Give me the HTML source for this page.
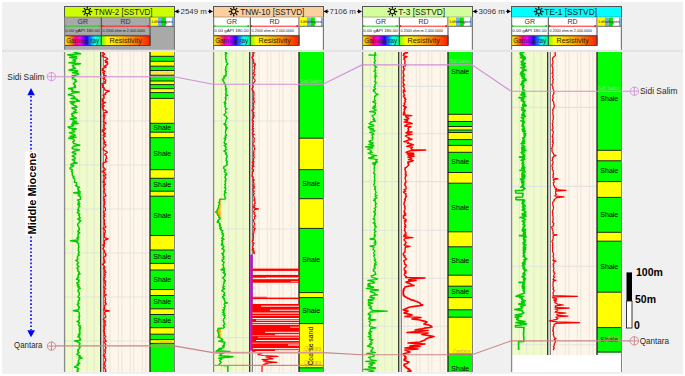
<!DOCTYPE html>
<html><head><meta charset="utf-8"><title>Well correlation</title>
<style>html,body{margin:0;padding:0;background:#fff;}svg{display:block;}</style></head>
<body><svg width="685" height="376" viewBox="0 0 685 376"><defs>
<linearGradient id="gGR" x1="0" x2="1" y1="0" y2="0">
<stop offset="0" stop-color="#ffff00"/><stop offset="0.18" stop-color="#ff8000"/><stop offset="0.3" stop-color="#ff0080"/>
<stop offset="0.42" stop-color="#ff00ff"/><stop offset="0.6" stop-color="#2000ff"/><stop offset="0.82" stop-color="#00ffff"/><stop offset="1" stop-color="#00ff80"/>
</linearGradient>
<linearGradient id="gRD" x1="0" x2="1" y1="0" y2="0">
<stop offset="0" stop-color="#60ff00"/><stop offset="0.12" stop-color="#ffff00"/><stop offset="0.55" stop-color="#ffa000"/><stop offset="1" stop-color="#ff2000"/>
</linearGradient>
</defs>
<rect x="0" y="0" width="685" height="376" fill="#ffffff"/>
<rect x="2" y="2" width="681" height="372" fill="#f0f0f0"/>
<rect x="2" y="49.8" width="681" height="2" fill="#e3e3e3"/>
<rect x="64.5" y="6.5" width="110" height="10.8" fill="#ccff00" stroke="#555" stroke-width="1"/>
<rect x="64.5" y="17.3" width="110" height="32.5" fill="#a9a9a9"/>
<circle cx="87.3" cy="11.5" r="2.2" fill="none" stroke="#111" stroke-width="1.1"/><line x1="90.60" y1="11.50" x2="91.70" y2="11.50" stroke="#111" stroke-width="1.3" stroke-linecap="round"/><line x1="89.63" y1="13.83" x2="90.41" y2="14.61" stroke="#111" stroke-width="1.3" stroke-linecap="round"/><line x1="87.30" y1="14.80" x2="87.30" y2="15.90" stroke="#111" stroke-width="1.3" stroke-linecap="round"/><line x1="84.97" y1="13.83" x2="84.19" y2="14.61" stroke="#111" stroke-width="1.3" stroke-linecap="round"/><line x1="84.00" y1="11.50" x2="82.90" y2="11.50" stroke="#111" stroke-width="1.3" stroke-linecap="round"/><line x1="84.97" y1="9.17" x2="84.19" y2="8.39" stroke="#111" stroke-width="1.3" stroke-linecap="round"/><line x1="87.30" y1="8.20" x2="87.30" y2="7.10" stroke="#111" stroke-width="1.3" stroke-linecap="round"/><line x1="89.63" y1="9.17" x2="90.41" y2="8.39" stroke="#111" stroke-width="1.3" stroke-linecap="round"/>
<text x="94.0" y="14.6" font-family="Liberation Sans" font-size="8.8" textLength="58.599999999999994" lengthAdjust="spacingAndGlyphs" fill="#222">TNW-2 [SSTVD]</text>
<text x="82.8" y="24.4" font-family="Liberation Sans" font-size="7" text-anchor="middle" fill="#333">GR</text>
<line x1="65" y1="26.2" x2="99.5" y2="26.2" stroke="#22cc22" stroke-width="1"/>
<circle cx="65.3" cy="26.2" r="1.1" fill="#22cc22"/><circle cx="99.3" cy="26.2" r="1.1" fill="#22cc22"/>
<text x="65.3" y="32.2" font-family="Liberation Sans" font-size="4.3" textLength="34.5" lengthAdjust="spacingAndGlyphs" fill="#1a1a1a">0.00 gAPI 180.00</text>
<text x="125.5" y="24.4" font-family="Liberation Sans" font-size="7" text-anchor="middle" fill="#333">RD</text>
<line x1="102" y1="26.2" x2="148.5" y2="26.2" stroke="#ff2020" stroke-width="1"/>
<circle cx="102.3" cy="26.2" r="1.1" fill="#ff2020"/><circle cx="148.3" cy="26.2" r="1.1" fill="#ff2020"/>
<text x="102.6" y="32.1" font-family="Liberation Sans" font-size="4" textLength="42.5" lengthAdjust="spacingAndGlyphs" fill="#1a1a1a">0.2000 ohm.m 2,000.0000</text>
<rect x="64.5" y="35.9" width="36.8" height="9.5" fill="url(#gGR)" stroke="#333" stroke-width="0.8"/>
<text x="66.2" y="43.2" font-family="Liberation Sans" font-size="7.2" textLength="33" lengthAdjust="spacingAndGlyphs" fill="#2a2a10">Gamma ray</text>
<rect x="101.3" y="35.9" width="48.8" height="9.5" fill="url(#gRD)" stroke="#333" stroke-width="0.8"/>
<text x="125.7" y="43.2" font-family="Liberation Sans" font-size="7.2" text-anchor="middle" fill="#2a2a10">Resistivity</text>
<line x1="101.3" y1="17.3" x2="101.3" y2="35.6" stroke="#444" stroke-width="1"/>
<line x1="64.5" y1="35.4" x2="150" y2="35.4" stroke="#555" stroke-width="0.8"/>
<line x1="150" y1="17.3" x2="150" y2="45.4" stroke="#444" stroke-width="1"/>
<rect x="150.6" y="17.6" width="7.4" height="8.6" fill="#ffff00"/>
<rect x="158.0" y="17.6" width="3.7" height="8.6" fill="#72b0f0"/>
<rect x="161.7" y="17.6" width="4.2" height="8.6" fill="#00e800"/>
<rect x="165.9" y="17.6" width="6" height="8.6" fill="#ffffff"/>
<rect x="171.9" y="17.6" width="1.9" height="8.6" fill="#72b0f0"/>
<line x1="150.6" y1="26.3" x2="174" y2="26.3" stroke="#444" stroke-width="0.8"/>
<text x="151.4" y="23.2" font-family="Liberation Sans" font-size="4" textLength="21.5" lengthAdjust="spacingAndGlyphs" fill="#222">Lithologies</text>
<path d="M64.6,49.7 V17.3 M174.4,17.3 V49.7" fill="none" stroke="#7a7a7a" stroke-width="1.2"/>
<rect x="64" y="52" width="37" height="320" fill="#f0fbcc"/>
<rect x="101" y="52" width="49" height="320" fill="#fef6ea"/>
<line x1="72.45" y1="52" x2="72.45" y2="372" stroke="#e3e8cf" stroke-width="1"/>
<line x1="79.70" y1="52" x2="79.70" y2="372" stroke="#e3e8cf" stroke-width="1"/>
<line x1="86.95" y1="52" x2="86.95" y2="372" stroke="#e3e8cf" stroke-width="1"/>
<line x1="94.20" y1="52" x2="94.20" y2="372" stroke="#e3e8cf" stroke-width="1"/>
<line x1="106.28" y1="52" x2="106.28" y2="372" stroke="#ebe4da" stroke-width="1"/>
<line x1="109.89" y1="52" x2="109.89" y2="372" stroke="#ebe4da" stroke-width="1"/>
<line x1="118.28" y1="52" x2="118.28" y2="372" stroke="#ebe4da" stroke-width="1"/>
<line x1="121.89" y1="52" x2="121.89" y2="372" stroke="#ebe4da" stroke-width="1"/>
<line x1="130.28" y1="52" x2="130.28" y2="372" stroke="#ebe4da" stroke-width="1"/>
<line x1="133.89" y1="52" x2="133.89" y2="372" stroke="#ebe4da" stroke-width="1"/>
<line x1="142.28" y1="52" x2="142.28" y2="372" stroke="#ebe4da" stroke-width="1"/>
<line x1="145.89" y1="52" x2="145.89" y2="372" stroke="#ebe4da" stroke-width="1"/>
<line x1="64" y1="77" x2="150" y2="77" stroke="#e2e2e2" stroke-width="1.1"/>
<line x1="64" y1="121" x2="150" y2="121" stroke="#e2e2e2" stroke-width="1.1"/>
<line x1="64" y1="165" x2="150" y2="165" stroke="#e2e2e2" stroke-width="1.1"/>
<line x1="64" y1="209" x2="150" y2="209" stroke="#e2e2e2" stroke-width="1.1"/>
<line x1="64" y1="253" x2="150" y2="253" stroke="#e2e2e2" stroke-width="1.1"/>
<line x1="64" y1="297" x2="150" y2="297" stroke="#e2e2e2" stroke-width="1.1"/>
<line x1="64" y1="341" x2="150" y2="341" stroke="#e2e2e2" stroke-width="1.1"/>
<rect x="213.5" y="6.5" width="110" height="10.8" fill="#fccf9e" stroke="#555" stroke-width="1"/>
<rect x="213.5" y="17.3" width="110" height="32.5" fill="#ffffff"/>
<circle cx="233.7" cy="11.5" r="2.2" fill="none" stroke="#111" stroke-width="1.1"/><line x1="237.00" y1="11.50" x2="238.10" y2="11.50" stroke="#111" stroke-width="1.3" stroke-linecap="round"/><line x1="236.03" y1="13.83" x2="236.81" y2="14.61" stroke="#111" stroke-width="1.3" stroke-linecap="round"/><line x1="233.70" y1="14.80" x2="233.70" y2="15.90" stroke="#111" stroke-width="1.3" stroke-linecap="round"/><line x1="231.37" y1="13.83" x2="230.59" y2="14.61" stroke="#111" stroke-width="1.3" stroke-linecap="round"/><line x1="230.40" y1="11.50" x2="229.30" y2="11.50" stroke="#111" stroke-width="1.3" stroke-linecap="round"/><line x1="231.37" y1="9.17" x2="230.59" y2="8.39" stroke="#111" stroke-width="1.3" stroke-linecap="round"/><line x1="233.70" y1="8.20" x2="233.70" y2="7.10" stroke="#111" stroke-width="1.3" stroke-linecap="round"/><line x1="236.03" y1="9.17" x2="236.81" y2="8.39" stroke="#111" stroke-width="1.3" stroke-linecap="round"/>
<text x="240.2" y="14.6" font-family="Liberation Sans" font-size="8.8" textLength="64.2" lengthAdjust="spacingAndGlyphs" fill="#222">TNW-10 [SSTVD]</text>
<text x="231.8" y="24.4" font-family="Liberation Sans" font-size="7" text-anchor="middle" fill="#333">GR</text>
<line x1="214" y1="26.2" x2="248.5" y2="26.2" stroke="#22cc22" stroke-width="1"/>
<circle cx="214.3" cy="26.2" r="1.1" fill="#22cc22"/><circle cx="248.3" cy="26.2" r="1.1" fill="#22cc22"/>
<text x="214.3" y="32.2" font-family="Liberation Sans" font-size="4.3" textLength="34.5" lengthAdjust="spacingAndGlyphs" fill="#1a1a1a">0.00 gAPI 180.00</text>
<text x="274.5" y="24.4" font-family="Liberation Sans" font-size="7" text-anchor="middle" fill="#333">RD</text>
<line x1="251" y1="26.2" x2="297.5" y2="26.2" stroke="#ff2020" stroke-width="1"/>
<circle cx="251.3" cy="26.2" r="1.1" fill="#ff2020"/><circle cx="297.3" cy="26.2" r="1.1" fill="#ff2020"/>
<text x="251.6" y="32.1" font-family="Liberation Sans" font-size="4" textLength="42.5" lengthAdjust="spacingAndGlyphs" fill="#1a1a1a">0.2000 ohm.m 2,000.0000</text>
<rect x="213.5" y="35.9" width="36.8" height="9.5" fill="url(#gGR)" stroke="#333" stroke-width="0.8"/>
<text x="215.2" y="43.2" font-family="Liberation Sans" font-size="7.2" textLength="33" lengthAdjust="spacingAndGlyphs" fill="#2a2a10">Gamma ray</text>
<rect x="250.3" y="35.9" width="48.8" height="9.5" fill="url(#gRD)" stroke="#333" stroke-width="0.8"/>
<text x="274.7" y="43.2" font-family="Liberation Sans" font-size="7.2" text-anchor="middle" fill="#2a2a10">Resistivity</text>
<line x1="250.3" y1="17.3" x2="250.3" y2="35.6" stroke="#444" stroke-width="1"/>
<line x1="213.5" y1="35.4" x2="299" y2="35.4" stroke="#555" stroke-width="0.8"/>
<line x1="299" y1="17.3" x2="299" y2="45.4" stroke="#444" stroke-width="1"/>
<rect x="299.6" y="17.6" width="7.4" height="8.6" fill="#ffff00"/>
<rect x="307.0" y="17.6" width="3.7" height="8.6" fill="#72b0f0"/>
<rect x="310.70000000000005" y="17.6" width="4.2" height="8.6" fill="#00e800"/>
<rect x="314.90000000000003" y="17.6" width="6" height="8.6" fill="#ffffff"/>
<rect x="320.90000000000003" y="17.6" width="1.9" height="8.6" fill="#72b0f0"/>
<line x1="299.6" y1="26.3" x2="323" y2="26.3" stroke="#444" stroke-width="0.8"/>
<text x="300.40000000000003" y="23.2" font-family="Liberation Sans" font-size="4" textLength="21.5" lengthAdjust="spacingAndGlyphs" fill="#222">Lithologies</text>
<path d="M213.6,49.7 V17.3 M323.4,17.3 V49.7" fill="none" stroke="#7a7a7a" stroke-width="1.2"/>
<rect x="213" y="52" width="37" height="320" fill="#f0fbcc"/>
<rect x="250" y="52" width="49" height="320" fill="#fef6ea"/>
<line x1="221.45" y1="52" x2="221.45" y2="372" stroke="#e3e8cf" stroke-width="1"/>
<line x1="228.70" y1="52" x2="228.70" y2="372" stroke="#e3e8cf" stroke-width="1"/>
<line x1="235.95" y1="52" x2="235.95" y2="372" stroke="#e3e8cf" stroke-width="1"/>
<line x1="243.20" y1="52" x2="243.20" y2="372" stroke="#e3e8cf" stroke-width="1"/>
<line x1="255.28" y1="52" x2="255.28" y2="372" stroke="#ebe4da" stroke-width="1"/>
<line x1="258.89" y1="52" x2="258.89" y2="372" stroke="#ebe4da" stroke-width="1"/>
<line x1="267.28" y1="52" x2="267.28" y2="372" stroke="#ebe4da" stroke-width="1"/>
<line x1="270.89" y1="52" x2="270.89" y2="372" stroke="#ebe4da" stroke-width="1"/>
<line x1="279.28" y1="52" x2="279.28" y2="372" stroke="#ebe4da" stroke-width="1"/>
<line x1="282.89" y1="52" x2="282.89" y2="372" stroke="#ebe4da" stroke-width="1"/>
<line x1="291.28" y1="52" x2="291.28" y2="372" stroke="#ebe4da" stroke-width="1"/>
<line x1="294.89" y1="52" x2="294.89" y2="372" stroke="#ebe4da" stroke-width="1"/>
<line x1="213" y1="121" x2="299" y2="121" stroke="#e2e2e2" stroke-width="1.1"/>
<line x1="213" y1="229" x2="299" y2="229" stroke="#e2e2e2" stroke-width="1.1"/>
<line x1="213" y1="337.6" x2="299" y2="337.6" stroke="#e2e2e2" stroke-width="1.1"/>
<rect x="362.5" y="6.5" width="110" height="10.8" fill="#d4fe9e" stroke="#555" stroke-width="1"/>
<rect x="362.5" y="17.3" width="110" height="32.5" fill="#ffffff"/>
<circle cx="392.4" cy="11.5" r="2.2" fill="none" stroke="#111" stroke-width="1.1"/><line x1="395.70" y1="11.50" x2="396.80" y2="11.50" stroke="#111" stroke-width="1.3" stroke-linecap="round"/><line x1="394.73" y1="13.83" x2="395.51" y2="14.61" stroke="#111" stroke-width="1.3" stroke-linecap="round"/><line x1="392.40" y1="14.80" x2="392.40" y2="15.90" stroke="#111" stroke-width="1.3" stroke-linecap="round"/><line x1="390.07" y1="13.83" x2="389.29" y2="14.61" stroke="#111" stroke-width="1.3" stroke-linecap="round"/><line x1="389.10" y1="11.50" x2="388.00" y2="11.50" stroke="#111" stroke-width="1.3" stroke-linecap="round"/><line x1="390.07" y1="9.17" x2="389.29" y2="8.39" stroke="#111" stroke-width="1.3" stroke-linecap="round"/><line x1="392.40" y1="8.20" x2="392.40" y2="7.10" stroke="#111" stroke-width="1.3" stroke-linecap="round"/><line x1="394.73" y1="9.17" x2="395.51" y2="8.39" stroke="#111" stroke-width="1.3" stroke-linecap="round"/>
<text x="398.3" y="14.6" font-family="Liberation Sans" font-size="8.8" textLength="46.8" lengthAdjust="spacingAndGlyphs" fill="#222">T-3 [SSTVD]</text>
<text x="380.8" y="24.4" font-family="Liberation Sans" font-size="7" text-anchor="middle" fill="#333">GR</text>
<line x1="363" y1="26.2" x2="397.5" y2="26.2" stroke="#22cc22" stroke-width="1"/>
<circle cx="363.3" cy="26.2" r="1.1" fill="#22cc22"/><circle cx="397.3" cy="26.2" r="1.1" fill="#22cc22"/>
<text x="363.3" y="32.2" font-family="Liberation Sans" font-size="4.3" textLength="34.5" lengthAdjust="spacingAndGlyphs" fill="#1a1a1a">0.00 gAPI 180.00</text>
<text x="423.5" y="24.4" font-family="Liberation Sans" font-size="7" text-anchor="middle" fill="#333">RD</text>
<line x1="400" y1="26.2" x2="446.5" y2="26.2" stroke="#ff2020" stroke-width="1"/>
<circle cx="400.3" cy="26.2" r="1.1" fill="#ff2020"/><circle cx="446.3" cy="26.2" r="1.1" fill="#ff2020"/>
<text x="400.6" y="32.1" font-family="Liberation Sans" font-size="4" textLength="42.5" lengthAdjust="spacingAndGlyphs" fill="#1a1a1a">0.2000 ohm.m 2,000.0000</text>
<rect x="362.5" y="35.9" width="36.8" height="9.5" fill="url(#gGR)" stroke="#333" stroke-width="0.8"/>
<text x="364.2" y="43.2" font-family="Liberation Sans" font-size="7.2" textLength="33" lengthAdjust="spacingAndGlyphs" fill="#2a2a10">Gamma ray</text>
<rect x="399.3" y="35.9" width="48.8" height="9.5" fill="url(#gRD)" stroke="#333" stroke-width="0.8"/>
<text x="423.7" y="43.2" font-family="Liberation Sans" font-size="7.2" text-anchor="middle" fill="#2a2a10">Resistivity</text>
<line x1="399.3" y1="17.3" x2="399.3" y2="35.6" stroke="#444" stroke-width="1"/>
<line x1="362.5" y1="35.4" x2="448" y2="35.4" stroke="#555" stroke-width="0.8"/>
<line x1="448" y1="17.3" x2="448" y2="45.4" stroke="#444" stroke-width="1"/>
<rect x="448.6" y="17.6" width="7.4" height="8.6" fill="#ffff00"/>
<rect x="456.0" y="17.6" width="3.7" height="8.6" fill="#72b0f0"/>
<rect x="459.70000000000005" y="17.6" width="4.2" height="8.6" fill="#00e800"/>
<rect x="463.90000000000003" y="17.6" width="6" height="8.6" fill="#ffffff"/>
<rect x="469.90000000000003" y="17.6" width="1.9" height="8.6" fill="#72b0f0"/>
<line x1="448.6" y1="26.3" x2="472" y2="26.3" stroke="#444" stroke-width="0.8"/>
<text x="449.40000000000003" y="23.2" font-family="Liberation Sans" font-size="4" textLength="21.5" lengthAdjust="spacingAndGlyphs" fill="#222">Lithologies</text>
<path d="M362.6,49.7 V17.3 M472.4,17.3 V49.7" fill="none" stroke="#7a7a7a" stroke-width="1.2"/>
<rect x="362" y="52" width="37" height="320" fill="#f0fbcc"/>
<rect x="399" y="52" width="49" height="320" fill="#fef6ea"/>
<line x1="370.45" y1="52" x2="370.45" y2="372" stroke="#e3e8cf" stroke-width="1"/>
<line x1="377.70" y1="52" x2="377.70" y2="372" stroke="#e3e8cf" stroke-width="1"/>
<line x1="384.95" y1="52" x2="384.95" y2="372" stroke="#e3e8cf" stroke-width="1"/>
<line x1="392.20" y1="52" x2="392.20" y2="372" stroke="#e3e8cf" stroke-width="1"/>
<line x1="404.28" y1="52" x2="404.28" y2="372" stroke="#ebe4da" stroke-width="1"/>
<line x1="407.89" y1="52" x2="407.89" y2="372" stroke="#ebe4da" stroke-width="1"/>
<line x1="416.28" y1="52" x2="416.28" y2="372" stroke="#ebe4da" stroke-width="1"/>
<line x1="419.89" y1="52" x2="419.89" y2="372" stroke="#ebe4da" stroke-width="1"/>
<line x1="428.28" y1="52" x2="428.28" y2="372" stroke="#ebe4da" stroke-width="1"/>
<line x1="431.89" y1="52" x2="431.89" y2="372" stroke="#ebe4da" stroke-width="1"/>
<line x1="440.28" y1="52" x2="440.28" y2="372" stroke="#ebe4da" stroke-width="1"/>
<line x1="443.89" y1="52" x2="443.89" y2="372" stroke="#ebe4da" stroke-width="1"/>
<line x1="362" y1="86.4" x2="448" y2="86.4" stroke="#e2e2e2" stroke-width="1.1"/>
<line x1="362" y1="133.8" x2="448" y2="133.8" stroke="#e2e2e2" stroke-width="1.1"/>
<line x1="362" y1="181.6" x2="448" y2="181.6" stroke="#e2e2e2" stroke-width="1.1"/>
<line x1="362" y1="230.2" x2="448" y2="230.2" stroke="#e2e2e2" stroke-width="1.1"/>
<line x1="362" y1="278.2" x2="448" y2="278.2" stroke="#e2e2e2" stroke-width="1.1"/>
<line x1="362" y1="326.3" x2="448" y2="326.3" stroke="#e2e2e2" stroke-width="1.1"/>
<rect x="511.5" y="6.5" width="110" height="10.8" fill="#00ffff" stroke="#555" stroke-width="1"/>
<rect x="511.5" y="17.3" width="110" height="32.5" fill="#ffffff"/>
<circle cx="538.7" cy="11.5" r="2.2" fill="none" stroke="#111" stroke-width="1.1"/><line x1="542.00" y1="11.50" x2="543.10" y2="11.50" stroke="#111" stroke-width="1.3" stroke-linecap="round"/><line x1="541.03" y1="13.83" x2="541.81" y2="14.61" stroke="#111" stroke-width="1.3" stroke-linecap="round"/><line x1="538.70" y1="14.80" x2="538.70" y2="15.90" stroke="#111" stroke-width="1.3" stroke-linecap="round"/><line x1="536.37" y1="13.83" x2="535.59" y2="14.61" stroke="#111" stroke-width="1.3" stroke-linecap="round"/><line x1="535.40" y1="11.50" x2="534.30" y2="11.50" stroke="#111" stroke-width="1.3" stroke-linecap="round"/><line x1="536.37" y1="9.17" x2="535.59" y2="8.39" stroke="#111" stroke-width="1.3" stroke-linecap="round"/><line x1="538.70" y1="8.20" x2="538.70" y2="7.10" stroke="#111" stroke-width="1.3" stroke-linecap="round"/><line x1="541.03" y1="9.17" x2="541.81" y2="8.39" stroke="#111" stroke-width="1.3" stroke-linecap="round"/>
<text x="544.3000000000001" y="14.6" font-family="Liberation Sans" font-size="8.8" textLength="52.699999999999996" lengthAdjust="spacingAndGlyphs" fill="#222">TE-1 [SSTVD]</text>
<text x="529.8" y="24.4" font-family="Liberation Sans" font-size="7" text-anchor="middle" fill="#333">GR</text>
<line x1="512" y1="26.2" x2="546.5" y2="26.2" stroke="#22cc22" stroke-width="1"/>
<circle cx="512.3" cy="26.2" r="1.1" fill="#22cc22"/><circle cx="546.3" cy="26.2" r="1.1" fill="#22cc22"/>
<text x="512.3" y="32.2" font-family="Liberation Sans" font-size="4.3" textLength="34.5" lengthAdjust="spacingAndGlyphs" fill="#1a1a1a">0.00 gAPI 180.00</text>
<text x="572.5" y="24.4" font-family="Liberation Sans" font-size="7" text-anchor="middle" fill="#333">RD</text>
<line x1="549" y1="26.2" x2="595.5" y2="26.2" stroke="#ff2020" stroke-width="1"/>
<circle cx="549.3" cy="26.2" r="1.1" fill="#ff2020"/><circle cx="595.3" cy="26.2" r="1.1" fill="#ff2020"/>
<text x="549.6" y="32.1" font-family="Liberation Sans" font-size="4" textLength="42.5" lengthAdjust="spacingAndGlyphs" fill="#1a1a1a">0.2000 ohm.m 2,000.0000</text>
<rect x="511.5" y="35.9" width="36.8" height="9.5" fill="url(#gGR)" stroke="#333" stroke-width="0.8"/>
<text x="513.2" y="43.2" font-family="Liberation Sans" font-size="7.2" textLength="33" lengthAdjust="spacingAndGlyphs" fill="#2a2a10">Gamma ray</text>
<rect x="548.3" y="35.9" width="48.8" height="9.5" fill="url(#gRD)" stroke="#333" stroke-width="0.8"/>
<text x="572.7" y="43.2" font-family="Liberation Sans" font-size="7.2" text-anchor="middle" fill="#2a2a10">Resistivity</text>
<line x1="548.3" y1="17.3" x2="548.3" y2="35.6" stroke="#444" stroke-width="1"/>
<line x1="511.5" y1="35.4" x2="597" y2="35.4" stroke="#555" stroke-width="0.8"/>
<line x1="597" y1="17.3" x2="597" y2="45.4" stroke="#444" stroke-width="1"/>
<rect x="597.6" y="17.6" width="7.4" height="8.6" fill="#ffff00"/>
<rect x="605.0" y="17.6" width="3.7" height="8.6" fill="#72b0f0"/>
<rect x="608.7" y="17.6" width="4.2" height="8.6" fill="#00e800"/>
<rect x="612.9" y="17.6" width="6" height="8.6" fill="#ffffff"/>
<rect x="618.9" y="17.6" width="1.9" height="8.6" fill="#72b0f0"/>
<line x1="597.6" y1="26.3" x2="621" y2="26.3" stroke="#444" stroke-width="0.8"/>
<text x="598.4" y="23.2" font-family="Liberation Sans" font-size="4" textLength="21.5" lengthAdjust="spacingAndGlyphs" fill="#222">Lithologies</text>
<path d="M511.6,49.7 V17.3 M621.4,17.3 V49.7" fill="none" stroke="#7a7a7a" stroke-width="1.2"/>
<rect x="511" y="355" width="110.5" height="17" fill="#ffffff"/>
<rect x="511" y="52" width="37" height="303" fill="#f0fbcc"/>
<rect x="548" y="52" width="49" height="303" fill="#fef6ea"/>
<line x1="519.45" y1="52" x2="519.45" y2="355" stroke="#e3e8cf" stroke-width="1"/>
<line x1="526.70" y1="52" x2="526.70" y2="355" stroke="#e3e8cf" stroke-width="1"/>
<line x1="533.95" y1="52" x2="533.95" y2="355" stroke="#e3e8cf" stroke-width="1"/>
<line x1="541.20" y1="52" x2="541.20" y2="355" stroke="#e3e8cf" stroke-width="1"/>
<line x1="553.28" y1="52" x2="553.28" y2="355" stroke="#ebe4da" stroke-width="1"/>
<line x1="556.89" y1="52" x2="556.89" y2="355" stroke="#ebe4da" stroke-width="1"/>
<line x1="565.28" y1="52" x2="565.28" y2="355" stroke="#ebe4da" stroke-width="1"/>
<line x1="568.89" y1="52" x2="568.89" y2="355" stroke="#ebe4da" stroke-width="1"/>
<line x1="577.28" y1="52" x2="577.28" y2="355" stroke="#ebe4da" stroke-width="1"/>
<line x1="580.89" y1="52" x2="580.89" y2="355" stroke="#ebe4da" stroke-width="1"/>
<line x1="589.28" y1="52" x2="589.28" y2="355" stroke="#ebe4da" stroke-width="1"/>
<line x1="592.89" y1="52" x2="592.89" y2="355" stroke="#ebe4da" stroke-width="1"/>
<line x1="511" y1="107.4" x2="597" y2="107.4" stroke="#e2e2e2" stroke-width="1.1"/>
<line x1="511" y1="186.4" x2="597" y2="186.4" stroke="#e2e2e2" stroke-width="1.1"/>
<line x1="511" y1="266.2" x2="597" y2="266.2" stroke="#e2e2e2" stroke-width="1.1"/>
<line x1="511" y1="344.8" x2="597" y2="344.8" stroke="#e2e2e2" stroke-width="1.1"/>
<rect x="150" y="52" width="24.2" height="4.30" fill="#ffff00"/>
<rect x="150" y="56.3" width="24.2" height="5.00" fill="#00ff00"/>
<rect x="150" y="61.3" width="24.2" height="4.90" fill="#ffff00"/>
<rect x="150" y="66.2" width="24.2" height="4.30" fill="#00ff00"/>
<rect x="150" y="70.5" width="24.2" height="4.70" fill="#ffff00"/>
<rect x="150" y="75.2" width="24.2" height="5.80" fill="#00ff00"/>
<rect x="150" y="81" width="24.2" height="3.60" fill="#ffff00"/>
<rect x="150" y="84.6" width="24.2" height="4.10" fill="#00ff00"/>
<rect x="150" y="88.7" width="24.2" height="3.90" fill="#ffff00"/>
<rect x="150" y="92.6" width="24.2" height="5.80" fill="#00ff00"/>
<rect x="150" y="98.4" width="24.2" height="24.90" fill="#ffff00"/>
<rect x="150" y="123.3" width="24.2" height="8.90" fill="#00ff00"/>
<rect x="150" y="132.2" width="24.2" height="5.50" fill="#ffff00"/>
<rect x="150" y="137.7" width="24.2" height="32.00" fill="#00ff00"/>
<rect x="150" y="169.7" width="24.2" height="8.60" fill="#ffff00"/>
<rect x="150" y="178.3" width="24.2" height="12.90" fill="#00ff00"/>
<rect x="150" y="191.2" width="24.2" height="5.00" fill="#ffff00"/>
<rect x="150" y="196.2" width="24.2" height="39.30" fill="#00ff00"/>
<rect x="150" y="235.5" width="24.2" height="14.50" fill="#ffff00"/>
<rect x="150" y="250" width="24.2" height="13.40" fill="#00ff00"/>
<rect x="150" y="263.4" width="24.2" height="6.60" fill="#ffff00"/>
<rect x="150" y="270" width="24.2" height="19.50" fill="#00ff00"/>
<rect x="150" y="289.5" width="24.2" height="6.00" fill="#ffff00"/>
<rect x="150" y="295.5" width="24.2" height="13.30" fill="#00ff00"/>
<rect x="150" y="308.8" width="24.2" height="5.70" fill="#ffff00"/>
<rect x="150" y="314.5" width="24.2" height="13.20" fill="#00ff00"/>
<rect x="150" y="327.7" width="24.2" height="6.50" fill="#ffff00"/>
<rect x="150" y="334.2" width="24.2" height="5.40" fill="#00ff00"/>
<rect x="150" y="339.6" width="24.2" height="3.80" fill="#ffff00"/>
<rect x="150" y="343.4" width="24.2" height="28.60" fill="#00ff00"/>
<line x1="150" y1="56.3" x2="174.2" y2="56.3" stroke="#1a2a1a" stroke-width="1"/>
<line x1="150" y1="61.3" x2="174.2" y2="61.3" stroke="#1a2a1a" stroke-width="1"/>
<line x1="150" y1="66.2" x2="174.2" y2="66.2" stroke="#1a2a1a" stroke-width="1"/>
<line x1="150" y1="70.5" x2="174.2" y2="70.5" stroke="#1a2a1a" stroke-width="1"/>
<line x1="150" y1="75.2" x2="174.2" y2="75.2" stroke="#1a2a1a" stroke-width="1"/>
<line x1="150" y1="81" x2="174.2" y2="81" stroke="#1a2a1a" stroke-width="1"/>
<line x1="150" y1="84.6" x2="174.2" y2="84.6" stroke="#1a2a1a" stroke-width="1"/>
<line x1="150" y1="88.7" x2="174.2" y2="88.7" stroke="#1a2a1a" stroke-width="1"/>
<line x1="150" y1="92.6" x2="174.2" y2="92.6" stroke="#1a2a1a" stroke-width="1"/>
<line x1="150" y1="98.4" x2="174.2" y2="98.4" stroke="#1a2a1a" stroke-width="1"/>
<line x1="150" y1="123.3" x2="174.2" y2="123.3" stroke="#1a2a1a" stroke-width="1"/>
<line x1="150" y1="132.2" x2="174.2" y2="132.2" stroke="#1a2a1a" stroke-width="1"/>
<line x1="150" y1="137.7" x2="174.2" y2="137.7" stroke="#1a2a1a" stroke-width="1"/>
<line x1="150" y1="169.7" x2="174.2" y2="169.7" stroke="#1a2a1a" stroke-width="1"/>
<line x1="150" y1="178.3" x2="174.2" y2="178.3" stroke="#1a2a1a" stroke-width="1"/>
<line x1="150" y1="191.2" x2="174.2" y2="191.2" stroke="#1a2a1a" stroke-width="1"/>
<line x1="150" y1="196.2" x2="174.2" y2="196.2" stroke="#1a2a1a" stroke-width="1"/>
<line x1="150" y1="235.5" x2="174.2" y2="235.5" stroke="#1a2a1a" stroke-width="1"/>
<line x1="150" y1="250" x2="174.2" y2="250" stroke="#1a2a1a" stroke-width="1"/>
<line x1="150" y1="263.4" x2="174.2" y2="263.4" stroke="#1a2a1a" stroke-width="1"/>
<line x1="150" y1="270" x2="174.2" y2="270" stroke="#1a2a1a" stroke-width="1"/>
<line x1="150" y1="289.5" x2="174.2" y2="289.5" stroke="#1a2a1a" stroke-width="1"/>
<line x1="150" y1="295.5" x2="174.2" y2="295.5" stroke="#1a2a1a" stroke-width="1"/>
<line x1="150" y1="308.8" x2="174.2" y2="308.8" stroke="#1a2a1a" stroke-width="1"/>
<line x1="150" y1="314.5" x2="174.2" y2="314.5" stroke="#1a2a1a" stroke-width="1"/>
<line x1="150" y1="327.7" x2="174.2" y2="327.7" stroke="#1a2a1a" stroke-width="1"/>
<line x1="150" y1="334.2" x2="174.2" y2="334.2" stroke="#1a2a1a" stroke-width="1"/>
<line x1="150" y1="339.6" x2="174.2" y2="339.6" stroke="#1a2a1a" stroke-width="1"/>
<line x1="150" y1="343.4" x2="174.2" y2="343.4" stroke="#1a2a1a" stroke-width="1"/>
<text x="162.3" y="130.2" font-family="Liberation Sans" font-size="7" text-anchor="middle" fill="#000">Shale</text>
<text x="162.3" y="156.4" font-family="Liberation Sans" font-size="7" text-anchor="middle" fill="#000">Shale</text>
<text x="162.3" y="187.2" font-family="Liberation Sans" font-size="7" text-anchor="middle" fill="#000">Shale</text>
<text x="162.3" y="217.5" font-family="Liberation Sans" font-size="7" text-anchor="middle" fill="#000">Shale</text>
<text x="162.3" y="259.1" font-family="Liberation Sans" font-size="7" text-anchor="middle" fill="#000">Shale</text>
<text x="162.3" y="281.5" font-family="Liberation Sans" font-size="7" text-anchor="middle" fill="#000">Shale</text>
<text x="162.3" y="304.3" font-family="Liberation Sans" font-size="7" text-anchor="middle" fill="#000">Shale</text>
<text x="162.3" y="322.5" font-family="Liberation Sans" font-size="7" text-anchor="middle" fill="#000">Shale</text>
<line x1="150" y1="52" x2="150" y2="372" stroke="#1e1e1e" stroke-width="1.3"/>
<line x1="64.6" y1="52" x2="64.6" y2="372" stroke="#8a8a8a" stroke-width="1.3"/>
<line x1="100.8" y1="52" x2="100.8" y2="372" stroke="#343a34" stroke-width="1.6"/>
<line x1="102.2" y1="52" x2="102.2" y2="372" stroke="#f6f8f2" stroke-width="1.2"/>
<line x1="103.3" y1="52" x2="103.3" y2="372" stroke="#555" stroke-width="0.9"/>
<line x1="174.6" y1="52" x2="174.6" y2="372" stroke="#7a7480" stroke-width="1"/>
<line x1="175.6" y1="52" x2="175.6" y2="372" stroke="#f9f9f9" stroke-width="1"/>
<rect x="299" y="52" width="24.2" height="86.20" fill="#00ff00"/>
<rect x="299" y="138.2" width="24.2" height="31.50" fill="#ffff00"/>
<rect x="299" y="169.7" width="24.2" height="29.00" fill="#00ff00"/>
<rect x="299" y="198.7" width="24.2" height="29.70" fill="#ffff00"/>
<rect x="299" y="228.4" width="24.2" height="64.20" fill="#00ff00"/>
<rect x="299" y="292.6" width="24.2" height="5.00" fill="#ffff00"/>
<rect x="299" y="297.6" width="24.2" height="26.00" fill="#00ff00"/>
<rect x="299" y="323.6" width="24.2" height="44.20" fill="#ffff00"/>
<rect x="299" y="367.8" width="24.2" height="4.20" fill="#00ff00"/>
<line x1="299" y1="138.2" x2="323.2" y2="138.2" stroke="#1a2a1a" stroke-width="1"/>
<line x1="299" y1="169.7" x2="323.2" y2="169.7" stroke="#1a2a1a" stroke-width="1"/>
<line x1="299" y1="198.7" x2="323.2" y2="198.7" stroke="#1a2a1a" stroke-width="1"/>
<line x1="299" y1="228.4" x2="323.2" y2="228.4" stroke="#1a2a1a" stroke-width="1"/>
<line x1="299" y1="292.6" x2="323.2" y2="292.6" stroke="#1a2a1a" stroke-width="1"/>
<line x1="299" y1="297.6" x2="323.2" y2="297.6" stroke="#1a2a1a" stroke-width="1"/>
<line x1="299" y1="323.6" x2="323.2" y2="323.6" stroke="#1a2a1a" stroke-width="1"/>
<line x1="299" y1="367.8" x2="323.2" y2="367.8" stroke="#1a2a1a" stroke-width="1"/>
<text x="311.3" y="185.5" font-family="Liberation Sans" font-size="7" text-anchor="middle" fill="#000">Shale</text>
<text x="311.3" y="262.3" font-family="Liberation Sans" font-size="7" text-anchor="middle" fill="#000">Shale</text>
<text x="311.3" y="312.7" font-family="Liberation Sans" font-size="7" text-anchor="middle" fill="#000">Shale</text>
<line x1="299" y1="52" x2="299" y2="372" stroke="#1e1e1e" stroke-width="1.3"/>
<line x1="213.6" y1="52" x2="213.6" y2="372" stroke="#8a8a8a" stroke-width="1.3"/>
<line x1="249.8" y1="52" x2="249.8" y2="372" stroke="#343a34" stroke-width="1.6"/>
<line x1="251.2" y1="52" x2="251.2" y2="372" stroke="#f6f8f2" stroke-width="1.2"/>
<line x1="252.3" y1="52" x2="252.3" y2="372" stroke="#555" stroke-width="0.9"/>
<line x1="323.6" y1="52" x2="323.6" y2="372" stroke="#7a7480" stroke-width="1"/>
<line x1="324.6" y1="52" x2="324.6" y2="372" stroke="#f9f9f9" stroke-width="1"/>
<rect x="448" y="52" width="24.2" height="62.30" fill="#00ff00"/>
<rect x="448" y="114.3" width="24.2" height="7.20" fill="#ffff00"/>
<rect x="448" y="121.5" width="24.2" height="5.00" fill="#00ff00"/>
<rect x="448" y="126.5" width="24.2" height="3.50" fill="#ffff00"/>
<rect x="448" y="130" width="24.2" height="2.50" fill="#00ff00"/>
<rect x="448" y="132.5" width="24.2" height="7.10" fill="#ffff00"/>
<rect x="448" y="139.6" width="24.2" height="5.80" fill="#00ff00"/>
<rect x="448" y="145.4" width="24.2" height="6.90" fill="#ffff00"/>
<rect x="448" y="152.3" width="24.2" height="20.20" fill="#00ff00"/>
<rect x="448" y="172.5" width="24.2" height="10.70" fill="#ffff00"/>
<rect x="448" y="183.2" width="24.2" height="48.60" fill="#00ff00"/>
<rect x="448" y="231.8" width="24.2" height="15.00" fill="#ffff00"/>
<rect x="448" y="246.8" width="24.2" height="28.40" fill="#00ff00"/>
<rect x="448" y="275.2" width="24.2" height="11.00" fill="#ffff00"/>
<rect x="448" y="286.2" width="24.2" height="11.40" fill="#00ff00"/>
<rect x="448" y="297.6" width="24.2" height="12.20" fill="#ffff00"/>
<rect x="448" y="309.8" width="24.2" height="7.40" fill="#00ff00"/>
<rect x="448" y="317.2" width="24.2" height="37.00" fill="#ffff00"/>
<rect x="448" y="354.2" width="24.2" height="17.80" fill="#00ff00"/>
<line x1="448" y1="114.3" x2="472.2" y2="114.3" stroke="#1a2a1a" stroke-width="1"/>
<line x1="448" y1="121.5" x2="472.2" y2="121.5" stroke="#1a2a1a" stroke-width="1"/>
<line x1="448" y1="126.5" x2="472.2" y2="126.5" stroke="#1a2a1a" stroke-width="1"/>
<line x1="448" y1="130" x2="472.2" y2="130" stroke="#1a2a1a" stroke-width="1"/>
<line x1="448" y1="132.5" x2="472.2" y2="132.5" stroke="#1a2a1a" stroke-width="1"/>
<line x1="448" y1="139.6" x2="472.2" y2="139.6" stroke="#1a2a1a" stroke-width="1"/>
<line x1="448" y1="145.4" x2="472.2" y2="145.4" stroke="#1a2a1a" stroke-width="1"/>
<line x1="448" y1="152.3" x2="472.2" y2="152.3" stroke="#1a2a1a" stroke-width="1"/>
<line x1="448" y1="172.5" x2="472.2" y2="172.5" stroke="#1a2a1a" stroke-width="1"/>
<line x1="448" y1="183.2" x2="472.2" y2="183.2" stroke="#1a2a1a" stroke-width="1"/>
<line x1="448" y1="231.8" x2="472.2" y2="231.8" stroke="#1a2a1a" stroke-width="1"/>
<line x1="448" y1="246.8" x2="472.2" y2="246.8" stroke="#1a2a1a" stroke-width="1"/>
<line x1="448" y1="275.2" x2="472.2" y2="275.2" stroke="#1a2a1a" stroke-width="1"/>
<line x1="448" y1="286.2" x2="472.2" y2="286.2" stroke="#1a2a1a" stroke-width="1"/>
<line x1="448" y1="297.6" x2="472.2" y2="297.6" stroke="#1a2a1a" stroke-width="1"/>
<line x1="448" y1="309.8" x2="472.2" y2="309.8" stroke="#1a2a1a" stroke-width="1"/>
<line x1="448" y1="317.2" x2="472.2" y2="317.2" stroke="#1a2a1a" stroke-width="1"/>
<line x1="448" y1="354.2" x2="472.2" y2="354.2" stroke="#1a2a1a" stroke-width="1"/>
<text x="460.3" y="74.0" font-family="Liberation Sans" font-size="7" text-anchor="middle" fill="#000">Shale</text>
<text x="460.3" y="164.3" font-family="Liberation Sans" font-size="7" text-anchor="middle" fill="#000">Shale</text>
<text x="460.3" y="210.0" font-family="Liberation Sans" font-size="7" text-anchor="middle" fill="#000">Shale</text>
<text x="460.3" y="262.9" font-family="Liberation Sans" font-size="7" text-anchor="middle" fill="#000">Shale</text>
<text x="460.3" y="294.0" font-family="Liberation Sans" font-size="7" text-anchor="middle" fill="#000">Shale</text>
<text x="460.3" y="371.3" font-family="Liberation Sans" font-size="7" text-anchor="middle" fill="#000">Shale</text>
<line x1="448" y1="52" x2="448" y2="372" stroke="#1e1e1e" stroke-width="1.3"/>
<line x1="362.6" y1="52" x2="362.6" y2="372" stroke="#8a8a8a" stroke-width="1.3"/>
<line x1="398.8" y1="52" x2="398.8" y2="372" stroke="#343a34" stroke-width="1.6"/>
<line x1="400.2" y1="52" x2="400.2" y2="372" stroke="#f6f8f2" stroke-width="1.2"/>
<line x1="401.3" y1="52" x2="401.3" y2="372" stroke="#555" stroke-width="0.9"/>
<line x1="472.6" y1="52" x2="472.6" y2="372" stroke="#7a7480" stroke-width="1"/>
<line x1="473.6" y1="52" x2="473.6" y2="372" stroke="#f9f9f9" stroke-width="1"/>
<rect x="597" y="52" width="24.2" height="98.30" fill="#00ff00"/>
<rect x="597" y="150.3" width="24.2" height="10.50" fill="#ffff00"/>
<rect x="597" y="160.8" width="24.2" height="20.80" fill="#00ff00"/>
<rect x="597" y="181.6" width="24.2" height="15.80" fill="#ffff00"/>
<rect x="597" y="197.4" width="24.2" height="34.90" fill="#00ff00"/>
<rect x="597" y="232.3" width="24.2" height="8.90" fill="#ffff00"/>
<rect x="597" y="241.2" width="24.2" height="51.00" fill="#00ff00"/>
<rect x="597" y="292.2" width="24.2" height="35.40" fill="#ffff00"/>
<rect x="597" y="327.6" width="24.2" height="24.90" fill="#00ff00"/>
<line x1="597" y1="150.3" x2="621.2" y2="150.3" stroke="#1a2a1a" stroke-width="1"/>
<line x1="597" y1="160.8" x2="621.2" y2="160.8" stroke="#1a2a1a" stroke-width="1"/>
<line x1="597" y1="181.6" x2="621.2" y2="181.6" stroke="#1a2a1a" stroke-width="1"/>
<line x1="597" y1="197.4" x2="621.2" y2="197.4" stroke="#1a2a1a" stroke-width="1"/>
<line x1="597" y1="232.3" x2="621.2" y2="232.3" stroke="#1a2a1a" stroke-width="1"/>
<line x1="597" y1="241.2" x2="621.2" y2="241.2" stroke="#1a2a1a" stroke-width="1"/>
<line x1="597" y1="292.2" x2="621.2" y2="292.2" stroke="#1a2a1a" stroke-width="1"/>
<line x1="597" y1="327.6" x2="621.2" y2="327.6" stroke="#1a2a1a" stroke-width="1"/>
<text x="609.3" y="100.9" font-family="Liberation Sans" font-size="7" text-anchor="middle" fill="#000">Shale</text>
<text x="609.3" y="173.0" font-family="Liberation Sans" font-size="7" text-anchor="middle" fill="#000">Shale</text>
<text x="609.3" y="217.1" font-family="Liberation Sans" font-size="7" text-anchor="middle" fill="#000">Shale</text>
<text x="609.3" y="268.5" font-family="Liberation Sans" font-size="7" text-anchor="middle" fill="#000">Shale</text>
<text x="609.3" y="342.0" font-family="Liberation Sans" font-size="7" text-anchor="middle" fill="#000">Shale</text>
<line x1="597" y1="52" x2="597" y2="355" stroke="#1e1e1e" stroke-width="1.3"/>
<line x1="597" y1="352.0" x2="621" y2="352.0" stroke="#222" stroke-width="1"/>
<line x1="511.6" y1="52" x2="511.6" y2="372" stroke="#8a8a8a" stroke-width="1.3"/>
<line x1="547.8" y1="52" x2="547.8" y2="355" stroke="#343a34" stroke-width="1.6"/>
<line x1="549.2" y1="52" x2="549.2" y2="355" stroke="#f6f8f2" stroke-width="1.2"/>
<line x1="550.3" y1="52" x2="550.3" y2="355" stroke="#555" stroke-width="0.9"/>
<line x1="621.6" y1="52" x2="621.6" y2="372" stroke="#7a7480" stroke-width="1"/>
<line x1="622.6" y1="52" x2="622.6" y2="372" stroke="#f9f9f9" stroke-width="1"/>
<clipPath id="cg0"><rect x="65.2" y="52" width="35" height="320"/></clipPath>
<clipPath id="cr0"><rect x="101.3" y="52" width="48.5" height="320"/></clipPath>
<clipPath id="cg1"><rect x="214.2" y="52" width="35" height="320"/></clipPath>
<clipPath id="cr1"><rect x="250.3" y="52" width="48.5" height="320"/></clipPath>
<clipPath id="cg2"><rect x="363.2" y="52" width="35" height="320"/></clipPath>
<clipPath id="cr2"><rect x="399.3" y="52" width="48.5" height="320"/></clipPath>
<clipPath id="cg3"><rect x="512.2" y="52" width="35" height="303"/></clipPath>
<clipPath id="cr3"><rect x="548.3" y="52" width="48.5" height="303"/></clipPath>
<g clip-path="url(#cg0)"><polyline points="73.5,52.0 77.3,52.9 80.6,53.8 67.7,54.7 70.8,55.6 76.5,56.5 69.7,57.4 76.8,58.3 75.2,59.2 73.0,60.1 75.6,61.0 75.0,61.9 69.0,62.8 80.5,63.7 74.9,64.6 72.3,65.5 73.8,66.4 73.2,67.3 75.4,68.2 72.8,69.1 69.0,70.0 77.9,70.9 77.2,71.8 72.6,72.7 78.6,73.6 78.1,74.5 76.4,75.0 72.0,75.9 74.4,76.8 72.4,77.7 72.3,78.6 75.7,79.5 75.1,80.4 76.7,81.3 74.3,82.2 74.2,83.1 73.5,84.0 74.5,84.9 75.7,85.8 74.2,86.7 75.6,87.6 68.6,88.5 72.4,89.4 72.9,90.3 71.8,91.2 79.1,92.1 73.1,93.0 70.9,93.9 68.2,94.8 72.7,95.7 74.3,96.6 75.0,97.5 71.1,98.4 77.4,99.3 76.6,100.0 79.6,100.9 70.0,101.8 74.7,102.7 71.1,103.6 73.2,104.5 73.7,105.4 76.6,106.3 76.9,107.2 71.9,108.1 74.1,109.0 76.2,109.9 75.3,110.8 73.9,111.7 77.0,112.6 71.9,113.5 71.6,114.4 73.2,115.3 72.0,116.2 74.6,117.1 76.3,118.0 70.2,118.9 73.8,119.8 73.2,120.7 76.7,121.6 72.5,122.5 78.1,123.4 71.7,124.3 73.3,125.2 73.0,126.1 68.1,127.0 69.2,127.9 76.2,128.8 74.6,129.7 72.0,130.0 74.0,130.9 74.7,131.8 69.4,132.7 71.2,133.6 74.3,134.5 75.1,135.4 70.3,136.3 76.0,137.2 68.7,138.1 73.5,139.0 74.0,139.9 74.6,140.8 72.9,141.7 73.4,142.6 73.7,143.5 76.9,144.4 79.8,145.3 73.4,146.2 73.1,147.1 72.0,148.0 73.4,148.9 79.2,149.8 75.7,150.7 73.8,151.6 72.2,152.5 75.8,153.4 75.7,154.3 73.9,155.2 72.2,156.1 74.4,157.0 75.1,157.9 75.2,158.8 72.3,159.7 74.7,160.6 74.5,161.5 73.7,162.4 77.1,163.0 71.5,163.9 70.8,164.8 73.6,165.7 72.3,166.6 71.2,167.0 70.2,167.9 70.1,168.8 72.3,169.7 72.1,170.6 71.4,171.5 72.5,172.4 72.4,173.0 72.2,173.9 72.4,174.8 72.5,175.7 74.1,176.6 73.1,177.5 73.9,178.4 74.7,179.3 74.9,180.2 74.6,181.1 74.2,182.0 76.8,182.9 76.5,183.8 76.8,184.7 75.5,185.6 77.6,186.5 79.5,187.4 77.7,188.3 77.8,189.2 79.1,190.1 78.1,191.0 80.4,191.9 73.7,192.8 80.0,193.7 79.8,194.6 78.2,195.5 80.3,196.4 80.4,197.3 80.4,198.2 80.8,199.1 77.6,200.0 78.6,200.9 79.1,201.8 78.1,202.7 80.0,203.6 77.8,204.5 79.3,205.4 79.8,206.3 78.6,207.2 78.3,208.1 78.7,209.0 77.7,209.9 79.1,210.8 78.1,211.7 77.3,212.6 78.8,213.5 79.7,214.4 78.5,215.3 79.4,216.2 79.4,217.1 80.2,218.0 77.8,218.9 78.9,219.8 80.8,220.7 79.8,221.6 79.1,222.5 78.4,223.4 77.7,224.3 77.7,225.2 78.4,226.1 78.6,227.0 79.1,227.9 79.3,228.8 79.5,229.7 78.4,230.0 78.6,230.9 77.7,231.8 79.7,232.7 78.7,233.6 78.0,234.5 78.0,235.4 78.0,236.3 78.8,237.2 76.8,238.1 78.1,239.0 78.1,239.9 70.5,240.8 77.7,241.7 76.9,242.6 78.6,243.5 78.4,244.4 78.6,245.3 78.7,246.2 79.0,247.1 78.3,248.0 78.4,248.9 78.6,249.8 78.2,250.7 78.8,251.6 79.2,252.5 78.4,253.4 78.2,254.3 79.2,255.0 78.0,255.9 77.5,256.8 77.6,257.7 77.4,258.6 77.9,259.5 75.9,260.4 77.2,261.3 78.2,262.2 78.2,263.1 77.0,264.0 77.1,264.9 78.3,265.8 78.9,266.7 77.1,267.6 77.2,268.5 78.2,269.4 77.9,270.3 77.9,271.2 79.2,272.1 78.6,273.0 80.1,273.9 78.2,274.8 78.2,275.7 78.0,276.6 78.5,277.5 77.0,278.4 76.6,279.3 79.2,280.2 78.6,281.1 78.9,282.0 76.7,282.9 77.5,283.8 78.7,284.7 77.2,285.6 79.1,286.5 78.2,287.4 80.3,288.3 78.5,289.2 78.5,290.0 77.9,290.9 78.3,291.8 79.3,292.7 79.2,293.6 79.4,294.5 79.0,295.4 78.3,296.3 78.2,297.2 79.7,298.1 79.1,299.0 79.6,299.9 78.2,300.8 78.5,301.7 78.1,302.6 78.9,303.5 77.3,304.4 78.2,305.3 78.3,306.2 79.5,307.1 78.5,308.0 79.0,308.9 78.3,309.8 73.4,310.7 78.5,311.6 79.0,312.5 79.4,313.4 79.2,314.3 79.3,315.2 79.7,316.1 78.4,317.0 79.4,317.9 79.1,318.8 79.2,319.7 78.7,320.6 77.0,321.5 79.4,322.4 79.4,323.3 78.4,324.2 78.4,325.1 80.5,326.0 79.2,326.9 80.7,327.8 79.3,328.7 80.2,329.6 79.3,330.5 79.6,331.4 80.1,332.3 79.2,333.2 80.1,334.1 78.3,335.0 79.7,335.9 77.9,336.8 79.5,337.7 80.3,338.6 79.8,339.5 80.8,340.0 74.5,340.9 77.3,341.8 79.2,342.7 80.0,343.6 79.6,344.5 78.9,345.4 78.7,346.3 80.3,347.2 79.5,348.1 78.9,349.0 77.8,349.9 78.5,350.8 77.6,351.7 79.0,352.6 77.8,353.5 76.9,354.4 78.6,355.3 80.5,356.2 78.7,357.1 82.1,358.0 78.9,358.9 79.1,359.8 78.3,360.7 78.6,361.6 78.2,362.5 79.8,363.4 77.2,364.3 78.5,365.2 76.1,366.1 74.5,367.0 77.6,367.9 78.6,368.8 77.4,369.7 77.9,370.6 77.0,371.5 78.6,372.0" fill="none" stroke="#00cc00" stroke-width="1.5" stroke-linejoin="round" /></g>
<g clip-path="url(#cr0)"><polyline points="102.2,52.0 102.3,52.8 104.4,53.6 104.6,54.4 102.8,55.2 101.8,56.0 103.9,56.8 105.9,57.6 107.2,58.4 107.8,59.2 105.8,60.0 104.9,60.8 107.6,61.6 105.4,62.4 107.8,63.2 107.6,64.0 107.0,64.8 105.0,65.6 104.4,66.4 106.1,67.2 104.1,68.0 102.5,68.8 103.1,69.6 101.9,70.4 105.1,71.2 104.3,72.0 102.8,72.8 104.5,73.6 103.6,74.4 103.7,75.2 106.5,76.0 104.3,76.8 104.7,77.6 103.0,78.4 104.7,79.2 105.7,80.0 105.8,80.8 104.5,81.6 105.5,82.4 105.4,83.2 101.8,84.0 101.8,84.8 103.5,85.6 102.9,86.4 102.3,87.2 104.6,88.0 104.1,88.8 104.4,89.6 106.1,90.4 109.5,91.2 107.2,92.0 105.6,92.8 105.0,93.6 105.6,94.4 103.0,95.2 104.1,96.0 104.0,96.8 104.2,97.6 104.1,98.4 101.8,99.2 102.1,100.0 103.2,100.8 102.0,101.6 105.5,102.4 103.9,103.2 101.8,104.0 101.8,104.8 104.2,105.6 104.1,106.4 101.8,107.2 102.8,108.0 103.3,108.8 102.8,109.6 105.6,110.4 106.4,111.2 107.4,112.0 104.1,112.8 103.9,113.6 103.6,114.4 105.1,115.2 103.0,116.0 105.0,116.8 103.7,117.6 104.5,118.4 103.8,119.2 104.1,120.0 103.9,120.8 103.2,121.6 104.8,122.4 106.1,123.2 104.6,124.0 103.5,124.8 104.4,125.6 104.2,126.4 103.8,127.2 104.6,128.0 105.6,128.8 102.6,129.6 104.3,130.4 101.8,131.2 103.4,132.0 104.3,132.8 105.3,133.6 104.2,134.4 103.1,135.2 105.3,136.0 104.1,136.8 103.8,137.6 103.0,138.4 103.5,139.2 104.3,140.0 104.1,140.8 104.1,141.6 105.6,142.4 103.8,143.2 104.3,144.0 106.0,144.8 105.5,145.6 105.1,146.4 104.1,147.2 103.5,148.0 103.0,148.8 103.3,149.6 104.4,150.4 105.5,151.2 107.4,152.0 107.0,152.8 105.5,153.6 104.6,154.4 105.3,155.2 106.6,156.0 106.2,156.8 106.1,157.6 106.9,158.4 105.5,159.2 105.6,160.0 105.4,160.8 106.9,161.6 104.4,162.4 102.9,163.2 103.5,164.0 103.1,164.8 103.0,165.6 103.2,166.4 103.2,167.2 104.4,168.0 104.7,168.8 105.6,169.6 104.9,170.0 103.5,170.8 102.0,171.6 104.7,172.4 104.8,173.2 105.1,174.0 105.9,174.8 103.3,175.6 104.9,176.4 105.0,177.2 105.9,178.0 104.5,178.8 104.1,179.6 103.9,180.4 104.4,181.2 102.7,182.0 104.7,182.8 105.0,183.6 105.4,184.4 103.5,185.2 104.5,186.0 103.7,186.8 103.8,187.6 104.5,188.4 104.5,189.2 104.7,190.0 103.8,190.8 104.3,191.6 104.0,192.4 104.9,193.2 105.2,194.0 105.5,194.8 106.0,195.6 104.7,196.4 103.9,197.2 103.6,198.0 104.2,198.8 104.6,199.6 104.0,200.4 104.8,201.2 105.0,202.0 104.5,202.8 104.7,203.6 104.8,204.4 104.2,205.2 103.9,206.0 103.9,206.8 105.0,207.6 105.2,208.4 105.6,209.2 105.5,210.0 105.0,210.8 103.7,211.6 103.5,212.4 104.6,213.2 105.0,214.0 104.5,214.8 103.6,215.6 104.9,216.4 103.9,217.2 103.6,218.0 103.8,218.8 104.4,219.6 104.7,220.4 104.5,221.2 104.2,222.0 104.4,222.8 104.8,223.6 104.5,224.4 104.8,225.2 104.8,226.0 105.9,226.8 104.9,227.6 103.0,228.4 104.4,229.2 104.5,230.0 105.3,230.8 105.1,231.6 105.2,232.4 104.0,233.2 104.8,234.0 104.6,234.8 104.2,235.6 104.4,236.4 104.2,237.2 105.2,238.0 108.2,238.8 106.1,239.6 104.5,240.4 104.5,241.2 104.2,242.0 104.4,242.8 104.7,243.6 104.4,244.4 102.7,245.2 104.5,246.0 104.0,246.8 103.5,247.6 102.8,248.4 103.3,249.2 104.1,250.0 104.4,250.8 104.7,251.6 104.3,252.4 105.1,253.2 106.1,254.0 105.3,254.8 106.0,255.6 104.7,256.4 103.8,257.2 103.5,258.0 104.1,258.8 104.1,259.6 104.7,260.4 104.0,261.2 105.2,262.0 104.6,262.8 103.7,263.6 102.3,264.4 103.6,265.2 104.2,266.0 104.7,266.8 105.0,267.6 103.4,268.4 104.5,269.2 104.6,270.0 105.3,270.8 104.6,271.6 105.9,272.4 104.6,273.2 104.5,274.0 105.4,274.8 104.5,275.6 105.2,276.4 105.1,277.2 103.8,278.0 104.5,278.8 104.0,279.6 104.0,280.4 105.7,281.2 104.5,282.0 105.6,282.8 104.7,283.6 105.2,284.4 105.6,285.2 105.2,286.0 103.7,286.8 104.0,287.6 105.6,288.4 105.0,289.2 104.7,290.0 104.4,290.8 104.7,291.6 104.9,292.4 104.1,293.2 104.7,294.0 106.4,294.8 104.4,295.6 104.4,296.4 105.1,297.2 105.1,298.0 105.4,298.8 105.6,299.6 104.9,300.4 105.2,301.2 105.7,302.0 104.8,302.8 106.2,303.6 105.9,304.4 104.6,305.2 104.7,306.0 104.6,306.8 104.4,307.6 104.8,308.4 103.8,309.2 103.9,310.0 109.4,310.8 105.2,311.6 104.6,312.4 104.9,313.2 104.5,314.0 105.2,314.8 105.1,315.6 105.6,316.4 105.8,317.2 104.2,318.0 103.9,318.8 103.3,319.6 104.6,320.4 105.6,321.2 104.0,322.0 105.4,322.8 104.7,323.6 104.8,324.4 105.8,325.2 103.6,326.0 104.8,326.8 104.1,327.6 104.4,328.4 104.7,329.2 104.2,330.0 103.5,330.8 104.6,331.6 104.3,332.4 104.7,333.2 104.7,334.0 104.3,334.8 104.8,335.6 105.7,336.4 105.1,337.2 104.6,338.0 104.7,338.8 105.3,339.6 105.0,340.4 106.4,341.2 103.9,342.0 104.7,342.8 105.3,343.6 105.7,344.4 105.1,345.2 104.8,346.0 105.6,346.8 105.8,347.6 105.7,348.4 104.9,349.2 104.8,350.0 105.5,350.8 104.7,351.6 105.4,352.4 105.2,353.2 104.8,354.0 104.0,354.8 103.4,355.6 105.2,356.4 104.7,357.2 104.7,358.0 105.6,358.8 105.5,359.6 105.7,360.4 105.3,361.2 104.7,362.0 105.0,362.8 104.5,363.6 103.8,364.4 105.1,365.2 105.2,366.0 105.2,366.8 103.8,367.6 104.6,368.4 105.5,369.2 105.7,370.0 105.2,370.8 105.9,371.6 104.8,372.0" fill="none" stroke="#ff0000" stroke-width="1.3" stroke-linejoin="round" /></g>
<g clip-path="url(#cg1)"><polyline points="226.8,52.0 225.3,52.8 226.9,53.6 225.3,54.4 225.7,55.2 226.0,56.0 225.7,56.8 225.4,57.6 226.0,58.4 226.2,59.2 225.8,60.0 226.6,60.8 226.3,61.6 226.2,62.4 227.5,63.2 227.8,64.0 226.6,64.8 226.6,65.6 226.2,66.4 225.7,67.2 225.6,68.0 226.2,68.8 225.3,69.6 225.4,70.4 226.5,71.2 225.7,72.0 225.9,72.8 226.4,73.6 225.9,74.4 225.9,75.2 226.0,76.0 223.9,76.0 224.8,76.8 223.6,77.6 224.2,78.4 222.4,79.2 222.5,80.0 223.0,80.0 223.1,80.8 223.4,81.6 224.5,82.4 224.2,83.2 224.4,84.0 224.9,84.0 226.1,84.8 225.3,85.6 225.3,86.4 225.9,87.2 225.4,88.0 226.6,88.8 225.4,89.6 225.9,90.4 226.4,91.2 225.9,92.0 226.2,92.8 225.5,93.6 225.7,94.4 227.7,95.2 225.6,96.0 226.0,96.8 225.2,97.6 225.7,98.4 226.2,99.2 225.5,100.0 225.6,100.8 225.6,101.6 224.1,102.4 225.9,103.2 224.6,104.0 225.1,104.8 225.7,105.6 224.9,106.4 225.4,107.2 225.7,108.0 226.9,108.8 225.6,109.6 225.5,110.4 225.4,111.2 225.9,112.0 225.9,112.8 225.2,113.6 224.0,114.4 224.3,115.2 225.7,116.0 226.5,116.8 227.1,117.6 227.1,118.4 226.2,119.2 226.2,120.0 225.7,120.8 225.6,121.6 225.7,122.4 225.1,123.2 223.9,124.0 226.2,124.8 225.0,125.6 226.1,126.4 225.8,127.2 227.3,128.0 225.8,128.8 226.6,129.6 225.4,130.4 225.9,131.2 225.3,132.0 225.5,132.8 225.7,133.6 226.0,134.4 226.7,135.2 225.1,136.0 225.9,136.8 226.0,137.6 224.0,138.4 225.9,139.2 225.2,140.0 224.9,140.8 224.6,141.6 224.1,142.4 224.3,143.2 226.6,144.0 225.6,144.8 224.1,145.6 225.6,146.4 226.1,147.2 225.7,148.0 225.4,148.8 226.7,149.6 224.7,150.4 224.0,151.2 225.6,152.0 226.5,152.8 225.3,153.6 225.8,154.4 227.1,155.2 226.9,156.0 227.0,156.8 226.7,157.6 226.2,158.4 226.3,159.2 226.3,160.0 226.1,160.8 227.5,161.6 226.8,162.4 226.5,163.2 227.1,164.0 227.4,164.8 226.6,165.0 225.8,165.8 224.6,166.6 223.5,167.0 223.9,167.8 223.5,168.6 224.8,169.4 225.9,170.0 224.9,170.8 224.2,171.6 225.1,172.4 226.0,173.2 226.9,174.0 225.1,174.8 226.1,175.6 225.2,176.4 225.1,177.2 225.1,178.0 226.0,178.8 226.0,179.6 225.2,180.4 225.8,181.2 225.0,182.0 225.5,182.8 225.7,183.6 224.6,184.4 225.5,185.2 225.2,186.0 225.6,186.8 224.4,187.6 225.9,188.4 225.5,189.2 225.7,190.0 224.8,190.8 224.4,191.6 226.1,192.4 224.3,193.2 224.9,194.0 224.2,194.8 224.5,195.6 224.9,196.4 225.1,197.2 225.3,198.0 225.7,198.8 224.3,199.0 219.7,199.3 219.6,200.1 219.5,200.9 219.7,201.7 218.7,202.5 219.1,203.0 219.5,203.8 219.6,204.6 218.4,205.4 218.7,206.2 218.5,207.0 218.2,207.8 218.0,208.6 217.3,209.4 217.0,210.2 217.4,211.0 216.9,211.8 215.6,212.0 216.5,212.8 217.4,213.6 217.5,214.4 217.6,215.0 218.9,215.8 218.6,216.6 218.8,217.4 220.3,218.0 220.0,218.8 218.9,219.6 217.8,220.4 218.9,221.2 217.1,222.0 218.8,222.8 220.0,223.6 219.4,224.4 220.5,225.2 219.4,226.0 219.7,226.8 221.3,227.6 219.7,228.4 221.4,229.2 220.7,230.0 222.9,230.8 222.1,231.6 222.1,232.0 221.9,232.8 223.2,233.6 222.2,234.4 223.7,235.2 223.3,236.0 222.6,236.8 222.5,237.6 221.4,238.4 224.1,239.2 222.7,240.0 221.6,240.8 222.8,241.6 222.6,242.4 221.7,243.2 223.0,244.0 221.3,244.8 222.6,245.6 224.0,246.4 223.2,247.2 223.0,248.0 222.0,248.8 223.5,249.6 224.6,250.4 223.8,251.2 223.5,252.0 223.8,252.8 221.8,253.6 223.4,254.4 222.8,255.2 223.3,256.0 224.1,256.8 222.7,257.6 224.0,258.4 223.5,259.2 222.1,260.0 222.3,260.8 222.9,261.6 224.3,262.4 223.6,263.2 223.3,264.0 222.8,264.8 223.2,265.6 223.5,266.4 223.9,267.2 223.1,268.0 224.8,268.8 221.0,269.6 224.4,270.4 224.0,271.2 224.5,272.0 223.0,272.8 224.9,273.6 225.4,274.4 224.6,275.2 225.0,276.0 224.0,276.8 222.8,277.6 223.0,278.4 224.3,279.2 224.2,280.0 225.4,280.8 224.0,281.6 224.2,282.4 223.9,283.2 223.8,284.0 223.4,284.8 223.2,285.6 224.4,286.4 222.8,287.2 222.8,288.0 224.7,288.8 223.4,289.6 222.5,290.0 221.8,290.8 223.3,291.6 224.1,292.4 224.8,293.2 224.4,294.0 223.3,294.8 225.0,295.6 222.7,296.4 222.4,297.2 223.5,298.0 224.5,298.8 223.7,299.6 224.7,300.4 224.8,301.2 224.7,302.0 227.5,302.8 224.4,303.6 224.2,304.4 224.6,305.2 225.1,306.0 225.2,306.8 223.6,307.6 224.6,308.4 224.6,309.2 222.7,310.0 224.2,310.8 223.6,311.6 222.6,312.4 224.6,313.2 224.1,314.0 223.0,314.8 225.1,315.6 224.2,316.4 224.9,317.2 224.5,318.0 223.9,318.8 223.5,319.6 223.2,320.4 223.8,321.2 223.8,322.0 224.1,322.8 224.8,323.6 224.6,324.4 223.2,325.2 223.6,326.0 224.5,326.8 223.9,327.6 223.6,328.0 218.1,328.4 218.3,329.2 217.9,330.0 217.2,330.8 217.6,331.6 218.7,332.4 218.2,333.2 218.7,334.0 219.0,334.8 218.4,335.6 218.6,336.4 217.9,337.2 219.1,337.3 220.4,338.1 221.8,338.9 222.8,339.5 221.8,340.3 222.4,340.5 218.6,341.3 224.7,342.1 224.9,342.9 224.0,343.7 224.0,344.5 224.3,345.3 222.6,346.1 224.2,346.9 223.6,347.7 218.8,348.5 221.3,349.3 218.0,350.0 216.4,350.8 230.0,351.6 212.8,352.4 223.9,353.2 220.7,354.0 221.6,354.8 220.0,355.0 219.2,355.8 233.0,356.6 226.0,357.4 218.6,358.2 221.8,359.0 220.8,359.8 219.9,360.0 219.7,360.8 220.2,361.6 221.2,362.4 220.4,363.2 219.3,364.0 219.1,364.8 219.9,365.5 227.8,365.8 227.8,366.6 227.8,367.4 227.8,368.2 227.8,369.0 227.8,369.8 227.8,370.6 227.8,371.4 227.8,372.0" fill="none" stroke="#00cc00" stroke-width="1.1" stroke-linejoin="round" /></g>
<g clip-path="url(#cr1)"><polyline points="252.8,52.0 254.1,52.8 254.0,53.6 253.0,54.4 253.3,55.2 253.6,56.0 252.4,56.8 251.7,57.6 252.9,58.4 252.8,59.2 253.8,60.0 252.9,60.8 253.5,61.6 254.0,62.4 253.2,63.2 255.5,64.0 254.8,64.8 253.8,65.0 255.1,65.8 253.8,66.6 254.5,67.4 254.9,68.2 254.2,69.0 254.3,69.8 253.7,70.6 254.3,71.4 254.4,72.2 253.2,73.0 252.7,73.8 255.0,74.6 254.3,75.4 254.1,76.2 253.4,77.0 253.7,77.8 253.4,78.0 253.8,78.8 254.8,79.6 255.1,80.4 255.0,81.0 254.3,81.8 253.8,82.6 253.7,83.4 252.7,84.0 252.6,84.8 252.8,85.6 253.3,86.4 253.2,87.2 252.5,88.0 252.0,88.8 251.9,89.6 253.2,90.4 252.6,91.2 254.1,92.0 253.3,92.8 254.1,93.6 253.8,94.4 254.1,95.2 253.4,96.0 253.9,96.8 253.5,97.6 254.1,98.4 253.1,99.2 254.0,100.0 253.7,100.8 254.5,101.6 254.2,102.4 252.8,103.2 253.9,104.0 253.7,104.8 253.1,105.6 253.1,106.4 254.1,107.2 253.6,108.0 253.7,108.8 253.6,109.6 251.8,110.4 252.9,111.2 253.1,112.0 254.0,112.8 253.0,113.6 253.5,114.4 254.2,115.2 253.0,116.0 254.1,116.8 253.0,117.6 253.5,118.4 252.7,119.2 252.1,120.0 253.3,120.8 253.7,121.6 252.5,122.4 252.8,123.2 253.4,124.0 253.4,124.8 252.4,125.6 253.5,126.4 252.5,127.2 252.7,128.0 253.7,128.8 252.3,129.6 253.2,130.4 253.7,131.2 253.0,132.0 252.9,132.8 252.3,133.6 254.3,134.4 252.9,135.2 253.0,136.0 253.1,136.8 253.9,137.6 254.5,138.4 254.0,139.2 254.1,140.0 253.8,140.8 254.3,141.6 253.8,142.4 253.1,143.2 252.8,144.0 253.2,144.8 254.4,145.6 253.7,146.4 254.2,147.2 254.1,148.0 255.0,148.8 254.1,149.6 254.0,150.4 253.7,151.2 254.1,152.0 253.4,152.8 253.7,153.6 254.1,154.4 253.0,155.2 254.1,156.0 253.8,156.8 254.5,157.6 253.5,158.4 253.7,159.2 253.4,160.0 253.4,160.8 254.2,161.6 252.1,162.4 253.9,163.2 253.1,164.0 253.7,164.8 252.2,165.6 254.0,166.4 252.4,167.2 252.4,168.0 252.1,168.8 253.5,169.6 253.5,170.4 253.6,171.2 252.1,172.0 252.6,172.8 252.4,173.6 252.2,174.4 252.4,175.2 251.8,176.0 253.2,176.8 253.4,177.6 253.0,178.4 253.0,179.2 254.4,180.0 253.0,180.8 253.6,181.6 253.2,182.4 253.9,183.2 254.2,184.0 253.5,184.8 252.9,185.6 254.6,186.4 253.6,187.2 254.5,188.0 253.0,188.8 252.8,189.6 253.4,190.4 254.3,191.2 253.3,192.0 253.8,192.8 254.6,193.6 253.4,194.4 253.5,195.2 253.8,196.0 253.9,196.8 254.2,197.6 254.7,198.4 253.8,199.2 255.1,200.0 253.7,200.8 254.9,201.6 254.7,202.4 255.3,203.2 254.0,204.0 254.0,204.8 255.0,205.6 253.1,206.4 254.7,207.2 253.1,208.0 258.5,208.8 254.4,209.6 254.0,210.4 253.7,211.2 253.6,212.0 254.8,212.8 253.9,213.6 254.3,214.4 254.8,215.2 255.7,216.0 254.1,216.8 254.5,217.6 254.8,218.4 254.2,219.2 253.4,220.0 253.5,220.8 254.1,221.6 254.0,222.4 254.1,223.2 254.9,224.0 254.3,224.8 253.8,225.6 254.1,226.4 253.4,227.2 254.1,228.0 255.4,228.8 253.7,229.6 254.4,230.4 253.8,231.2 254.1,232.0 254.0,232.8 252.7,233.6 253.6,234.4 253.4,235.2 253.2,236.0 253.5,236.8 253.6,237.6 253.2,238.4 252.8,239.2 253.6,240.0 252.4,240.8 252.2,241.6 253.0,242.4 254.2,243.2 253.2,244.0 253.3,244.8 253.2,245.6 252.6,246.4 252.9,247.2 252.5,248.0 253.7,248.8 252.2,249.6 253.8,250.4 253.5,251.2 254.5,252.0 253.5,252.8 254.5,253.6 253.8,254.0" fill="none" stroke="#ff0000" stroke-width="1.2" stroke-linejoin="round" /></g>
<g clip-path="url(#cg2)"><polyline points="368.5,55.0 374.9,55.2 375.0,52.0 375.3,52.8 375.1,53.6 375.9,54.4 375.9,55.2 374.7,56.0 374.6,56.8 375.2,57.6 374.4,58.4 374.4,59.2 375.2,60.0 375.5,60.8 374.9,61.6 374.0,62.4 374.5,63.2 375.1,64.0 373.6,64.8 375.6,65.6 374.9,66.4 376.6,67.2 375.0,68.0 374.9,68.8 375.5,69.6 375.8,70.4 374.0,71.2 375.1,72.0 375.8,72.8 376.0,73.6 374.8,74.4 375.0,75.2 376.6,76.0 374.5,76.8 375.6,77.6 375.0,78.4 375.5,79.2 375.4,80.0 375.1,80.8 374.5,81.6 376.2,82.4 375.5,83.2 375.9,84.0 374.6,84.8 374.8,85.6 375.4,86.4 374.0,87.2 374.8,88.0 375.7,88.8 373.3,89.6 374.4,90.4 373.2,91.2 375.0,92.0 375.2,92.0 375.0,92.8 376.0,93.6 378.0,94.4 375.8,95.2 375.0,96.0 376.1,96.0 374.5,96.8 374.8,97.6 374.7,98.4 374.7,99.2 374.4,100.0 375.5,100.8 372.7,101.6 373.4,102.4 375.9,103.2 375.3,104.0 375.4,104.8 375.4,105.6 373.3,106.4 375.9,107.2 372.5,108.0 374.8,108.8 374.2,109.6 376.4,110.0 375.1,110.8 369.6,111.6 375.1,112.4 375.5,113.2 375.0,114.0 374.1,114.8 372.2,115.6 372.3,116.4 373.3,117.2 373.3,118.0 374.5,118.8 372.9,119.6 374.3,120.4 375.7,121.2 370.8,122.0 370.6,122.8 369.0,123.6 370.6,124.4 373.3,125.0 374.0,125.8 369.5,126.6 368.3,127.4 369.6,128.2 373.4,129.0 370.0,129.8 372.9,130.0 374.9,130.8 374.1,131.6 369.7,132.4 372.4,133.2 374.1,134.0 371.8,134.8 372.2,135.6 372.4,136.4 373.1,137.2 371.7,138.0 373.0,138.8 372.9,139.6 371.7,140.4 369.0,141.2 369.6,142.0 373.3,142.8 371.7,143.6 368.8,144.4 373.8,145.2 373.7,146.0 365.4,146.8 372.6,147.6 372.0,148.4 367.5,149.2 370.1,150.0 371.4,150.8 370.4,151.6 372.3,152.4 368.1,153.2 370.4,154.0 372.7,154.8 376.7,155.6 371.8,156.4 373.8,157.2 368.6,158.0 373.1,158.8 377.4,159.6 376.1,160.4 375.8,161.2 377.5,162.0 372.9,162.8 376.0,163.0 372.5,163.8 375.5,164.6 374.2,165.4 374.3,166.0 374.2,166.8 374.6,167.6 374.0,168.4 374.1,169.2 374.5,170.0 374.4,170.8 374.1,171.6 373.8,172.4 373.5,173.2 375.1,174.0 374.5,174.8 374.9,175.6 374.3,176.4 374.5,177.2 374.7,178.0 374.6,178.8 374.4,179.6 375.2,180.4 374.1,181.2 374.3,182.0 374.7,182.8 374.3,183.6 373.6,184.4 374.1,185.2 374.0,186.0 375.9,186.8 374.8,187.6 375.4,188.4 374.3,189.2 375.5,190.0 375.7,190.8 375.5,191.6 376.2,192.4 375.6,193.2 375.1,194.0 375.3,194.8 376.9,195.6 375.1,196.4 375.6,197.2 377.0,198.0 374.3,198.8 375.4,199.6 373.6,200.4 375.4,201.2 375.4,202.0 375.2,202.8 376.5,203.6 375.3,204.4 375.3,205.2 375.5,206.0 376.1,206.8 375.6,207.6 374.3,208.4 375.3,209.2 375.4,210.0 375.4,210.8 373.6,211.6 374.9,212.4 375.4,213.2 374.6,214.0 375.6,214.8 374.3,215.6 374.2,216.4 374.2,217.2 374.8,218.0 373.0,218.8 374.6,219.6 374.9,220.4 375.0,221.2 374.3,222.0 373.1,222.8 375.4,223.6 374.4,224.4 375.6,225.2 374.4,226.0 376.4,226.8 375.7,227.6 374.7,228.4 375.0,229.2 374.1,230.0 375.0,230.8 376.0,231.6 374.3,232.4 374.6,233.2 375.0,234.0 374.1,234.8 375.2,235.0 375.6,235.8 374.1,236.6 374.7,237.4 374.5,238.2 370.0,239.0 375.2,239.8 375.6,240.6 374.8,241.4 376.2,242.2 373.9,243.0 375.9,243.8 375.7,244.6 374.0,245.4 370.0,246.2 374.0,247.0 373.8,247.8 373.4,248.6 372.9,249.4 374.3,250.2 374.9,251.0 374.6,251.8 373.7,252.6 373.8,253.4 374.2,254.2 375.0,255.0 373.6,255.8 374.0,256.6 374.8,257.4 374.8,258.2 374.3,259.0 375.7,259.8 374.4,260.6 375.3,261.4 376.2,262.2 375.5,263.0 374.5,263.8 376.2,264.6 374.3,265.4 375.0,266.2 374.0,267.0 375.3,267.8 374.7,268.6 373.2,269.4 373.8,270.2 373.2,271.0 374.9,271.8 375.3,272.6 375.2,273.4 375.9,274.2 374.3,275.0 371.2,275.8 371.6,276.6 372.2,277.4 374.1,278.0 377.6,278.8 375.9,279.6 367.8,280.4 370.9,281.2 373.9,282.0 374.6,282.8 368.4,283.6 367.9,284.4 370.2,285.2 367.7,286.0 373.4,286.8 373.5,287.6 366.4,288.4 370.6,289.2 378.5,290.0 370.6,290.8 370.2,291.6 372.4,292.4 374.6,293.2 374.3,294.0 377.4,294.8 370.8,295.6 371.9,296.4 369.7,297.2 374.5,298.0 373.7,298.8 368.3,299.6 373.2,300.0 368.3,300.8 368.4,301.6 368.6,302.4 373.0,303.2 368.0,304.0 370.2,304.8 368.4,305.6 371.6,306.4 371.3,307.2 369.1,308.0 371.8,308.8 371.2,309.6 372.6,310.4 387.3,311.2 370.2,312.0 369.9,312.8 368.3,313.6 368.2,314.4 370.9,315.0 369.3,315.8 370.5,316.6 369.1,317.4 370.3,318.2 368.4,319.0 376.0,319.8 370.7,320.6 369.0,321.4 370.0,322.2 370.2,323.0 370.5,323.8 369.5,324.6 369.4,325.4 369.7,326.2 370.9,327.0 376.0,327.8 370.4,328.6 370.3,329.4 370.2,330.2 369.4,331.0 372.0,331.8 368.7,332.6 370.5,333.4 368.9,334.2 370.8,335.0 371.1,335.8 368.1,336.6 371.0,337.4 370.8,338.2 369.2,339.0 373.0,339.8 371.1,340.6 370.3,341.4 371.4,342.2 372.2,343.0 369.6,343.8 371.6,344.6 368.4,345.4 367.4,346.2 371.0,347.0 373.3,347.8 372.9,348.6 371.8,349.4 372.0,350.2 370.5,351.0 372.3,351.8 375.4,352.6 366.8,353.4 372.2,354.2 374.0,355.0 374.4,355.8 371.9,356.6 368.5,357.4 370.4,358.2 370.0,359.0 371.5,359.8 376.3,360.6 365.7,361.4 372.4,362.2 375.1,363.0 368.9,363.8 372.5,364.6 372.1,365.4 369.6,366.2 368.4,367.0 375.6,367.8 375.0,368.6 363.6,369.4 370.3,370.2 373.9,371.0 368.7,371.8 373.0,372.0" fill="none" stroke="#00cc00" stroke-width="1.3" stroke-linejoin="round" /></g>
<g clip-path="url(#cr2)"><polyline points="404.4,52.0 407.5,52.8 403.6,53.6 404.4,54.4 403.2,55.2 404.0,56.0 407.0,56.8 404.0,57.6 404.8,58.4 403.7,59.2 404.8,60.0 405.1,60.8 404.9,61.6 404.9,62.4 404.8,63.2 404.9,64.0 406.0,64.8 405.7,65.6 403.3,66.4 403.3,67.2 403.5,68.0 404.2,68.8 404.5,69.6 403.3,70.4 403.2,71.2 403.2,72.0 403.2,72.8 403.2,73.6 403.8,74.4 403.4,75.2 404.1,76.0 403.2,76.8 403.2,77.6 403.2,78.4 403.2,79.2 404.2,80.0 403.2,80.8 403.2,81.6 403.2,82.4 403.2,83.2 403.5,84.0 404.5,84.8 403.2,85.6 403.2,86.4 404.0,87.2 404.3,88.0 404.5,88.8 404.2,89.6 403.2,90.4 405.3,91.2 403.2,92.0 403.5,92.8 403.8,93.6 404.1,94.4 404.7,95.2 403.3,96.0 403.7,96.8 405.0,97.6 404.5,98.4 405.9,99.2 404.9,100.0 404.8,100.8 405.7,101.6 404.9,102.4 404.1,103.2 404.9,104.0 404.7,104.8 403.2,105.6 404.0,106.4 406.5,107.2 404.4,108.0 405.4,108.8 404.0,109.6 404.3,110.0 404.6,110.8 404.0,111.6 404.7,112.4 403.2,113.2 405.1,114.0 403.2,114.8 411.8,115.6 405.6,116.4 406.0,117.2 408.3,118.0 408.8,118.8 404.3,119.6 407.7,120.4 405.9,121.2 407.6,122.0 404.1,122.0 410.5,122.8 412.3,123.6 406.3,124.4 406.8,125.2 404.6,126.0 411.0,126.8 408.5,127.6 408.0,128.4 408.8,129.2 408.1,130.0 408.8,130.8 407.4,131.6 412.1,132.0 405.9,132.8 408.5,133.6 412.0,134.4 406.5,135.2 405.5,136.0 406.5,136.8 409.1,137.6 408.4,138.4 412.1,139.2 408.4,140.0 406.2,140.8 403.8,141.6 408.5,142.4 407.4,143.2 411.1,144.0 413.4,144.8 409.3,145.6 406.5,146.4 412.7,147.2 411.0,148.0 411.0,148.8 412.6,149.6 425.7,150.0 410.5,150.8 407.5,151.6 406.0,152.4 413.7,153.2 407.1,154.0 413.9,154.8 408.3,155.6 414.0,156.4 407.8,157.2 410.7,158.0 411.8,158.8 408.4,159.6 413.3,160.4 412.2,161.2 407.6,162.0 408.9,162.8 407.8,163.6 408.6,164.4 409.0,165.0 408.0,165.8 407.0,166.6 406.4,167.4 405.0,168.0 405.3,168.8 404.8,169.6 405.3,170.4 405.5,171.2 406.1,172.0 405.4,172.8 405.9,173.6 405.3,174.4 406.5,175.2 405.4,176.0 405.9,176.8 405.0,177.6 405.2,178.4 405.4,179.2 405.6,180.0 405.8,180.8 405.8,181.6 406.0,182.4 404.8,183.2 405.4,184.0 404.5,184.8 405.4,185.6 405.8,186.4 406.2,187.2 405.8,188.0 406.1,188.8 404.0,189.6 404.8,190.4 405.8,191.2 403.5,192.0 404.2,192.8 406.0,193.6 405.6,194.4 406.2,195.2 405.4,196.0 406.5,196.8 405.6,197.6 405.4,198.4 404.5,199.2 405.6,200.0 405.0,200.8 404.3,201.6 404.7,202.4 403.8,203.2 404.2,204.0 404.0,204.8 404.7,205.6 405.1,206.4 404.5,207.2 405.2,208.0 404.9,208.8 405.1,209.6 404.4,210.4 404.1,211.2 404.9,212.0 404.1,212.8 405.8,213.6 404.4,214.4 405.8,215.2 403.2,216.0 403.8,216.8 403.2,217.6 403.7,218.4 405.4,219.2 406.4,220.0 404.2,220.8 405.9,221.6 404.9,222.4 404.7,223.2 404.7,224.0 405.4,224.8 405.8,225.6 404.6,226.4 405.8,227.2 404.8,228.0 404.6,228.8 404.9,229.6 404.3,230.4 405.3,231.2 405.2,232.0 406.0,232.8 405.9,233.6 404.4,234.4 406.5,235.2 403.6,236.0 404.1,236.8 412.9,237.6 405.3,238.4 404.5,239.2 403.9,240.0 405.0,240.8 405.3,241.6 406.2,242.4 405.3,243.2 405.7,244.0 404.1,244.8 404.8,245.6 410.0,246.4 405.4,247.2 405.2,248.0 405.1,248.8 405.2,249.6 405.1,250.4 404.6,251.2 405.2,252.0 404.2,252.8 403.3,253.6 403.2,254.4 403.5,255.2 405.2,256.0 404.0,256.8 405.3,257.6 405.8,258.4 406.6,259.2 404.9,260.0 403.7,260.8 404.2,261.6 404.6,262.4 404.7,263.2 404.4,264.0 406.1,264.8 406.5,265.6 405.9,266.4 405.4,267.2 404.5,268.0 404.2,268.8 404.2,269.6 404.5,270.4 406.1,271.2 404.6,272.0 406.2,272.8 404.5,273.6 404.4,274.4 404.3,275.0 405.3,275.8 406.4,276.6 405.5,277.4 405.8,277.5 425.0,278.0 414.6,278.8 412.0,279.0 408.9,279.8 408.0,280.0" fill="none" stroke="#ff0000" stroke-width="1.4" stroke-linejoin="round" /></g>
<g clip-path="url(#cg3)"><polyline points="521.9,52.0 523.7,52.4 520.7,52.7 521.0,53.1 520.1,53.4 520.1,53.8 520.9,54.1 522.5,54.5 521.4,54.8 520.7,55.2 523.0,55.5 523.4,55.9 522.4,56.2 521.3,56.6 524.2,56.9 525.1,57.3 520.6,57.6 523.6,58.0 522.1,58.3 525.2,58.7 522.7,59.0 524.8,59.4 524.1,59.7 523.0,60.0 523.2,60.4 523.1,60.7 523.1,61.1 521.4,61.4 521.2,61.8 522.5,62.1 523.3,62.5 522.0,62.8 524.4,63.2 525.3,63.5 522.0,63.9 522.5,64.2 521.4,64.6 524.5,64.9 521.8,65.2 523.6,65.6 523.1,65.9 524.8,66.3 525.3,66.6 524.9,67.0 523.9,67.3 520.9,67.7 523.2,68.0 523.0,68.4 522.5,68.7 524.2,69.1 523.8,69.4 524.6,69.8 526.1,70.1 522.4,70.5 522.6,70.8 523.1,71.2 523.2,71.5 521.6,71.9 521.8,72.2 522.1,72.6 520.9,72.9 523.5,73.3 522.2,73.6 520.5,74.0 522.3,74.3 524.7,74.7 521.5,75.0 522.3,75.4 522.3,75.7 521.4,76.1 524.1,76.4 522.4,76.8 524.0,77.1 523.7,77.5 523.0,77.8 524.6,78.2 522.2,78.5 524.4,78.9 525.8,79.2 524.7,79.6 525.7,79.9 525.9,80.3 523.6,80.6 522.3,81.0 524.1,81.3 523.9,81.7 522.0,82.0 523.8,82.4 522.8,82.7 521.8,83.1 521.8,83.4 523.2,83.8 522.4,84.1 520.7,84.5 522.8,84.8 523.2,85.2 523.8,85.5 523.4,85.9 522.4,86.2 523.0,86.6 523.8,86.9 522.8,87.3 523.6,87.6 522.6,88.0 523.0,88.3 522.9,88.7 522.5,89.0 523.1,89.4 523.1,89.7 524.2,90.0 523.1,90.3 524.7,90.7 523.6,91.0 523.1,91.4 523.3,91.7 522.0,92.1 524.5,92.4 522.8,92.8 521.8,93.1 523.0,93.5 522.3,93.8 525.0,94.2 523.4,94.5 520.9,94.9 524.3,95.2 522.4,95.6 523.4,95.9 525.6,96.3 524.0,96.6 522.9,97.0 522.9,97.3 519.0,97.7 523.8,98.0 523.9,98.4 523.3,98.7 521.2,99.1 521.7,99.4 523.1,99.8 522.1,100.1 522.1,100.5 521.5,100.8 523.8,101.2 524.8,101.5 523.7,101.9 524.1,102.2 524.3,102.6 523.6,102.9 523.3,103.3 523.4,103.6 524.6,104.0 525.1,104.3 522.8,104.7 523.3,105.0 522.6,105.4 526.1,105.7 524.3,106.1 523.4,106.4 523.1,106.8 522.9,107.1 522.6,107.5 521.7,107.8 523.4,108.2 523.6,108.5 523.7,108.9 523.4,109.2 522.1,109.6 521.6,109.9 525.2,110.3 524.9,110.6 524.0,111.0 523.2,111.3 524.7,111.7 523.3,112.0 523.9,112.4 523.1,112.7 523.9,113.1 523.7,113.4 522.5,113.8 523.9,114.1 524.3,114.5 521.9,114.8 521.9,115.2 524.7,115.5 524.4,115.9 524.5,116.2 525.3,116.6 522.7,116.9 522.2,117.3 521.4,117.6 522.3,118.0 522.8,118.3 523.7,118.7 523.3,119.0 523.1,119.4 523.2,119.7 523.6,120.1 522.8,120.4 521.0,120.8 523.8,121.1 523.3,121.5 524.4,121.8 524.1,122.2 522.7,122.5 524.2,122.9 522.9,123.2 522.7,123.6 522.6,123.9 522.4,124.3 523.1,124.6 522.2,125.0 522.7,125.3 523.1,125.7 523.7,126.0 522.1,126.4 523.2,126.7 524.0,127.1 523.7,127.4 523.5,127.8 523.9,128.1 523.9,128.5 524.3,128.8 522.3,129.2 523.8,129.5 522.4,129.9 523.8,130.0 524.3,130.3 524.6,130.7 525.1,131.0 522.8,131.4 525.1,131.7 523.6,132.1 523.8,132.4 523.7,132.8 524.2,133.1 524.4,133.5 525.8,133.8 524.5,134.2 524.1,134.5 524.2,134.9 524.3,135.2 525.5,135.6 524.4,135.9 524.1,136.3 524.2,136.6 524.6,137.0 524.7,137.3 523.6,137.7 522.8,138.0 523.2,138.4 522.8,138.7 523.6,139.1 524.1,139.4 523.6,139.8 523.8,140.1 524.2,140.5 523.2,140.8 522.5,141.2 524.6,141.5 523.5,141.9 522.3,142.2 523.4,142.6 522.1,142.9 524.6,143.3 521.2,143.6 523.4,144.0 522.7,144.3 522.6,144.7 522.4,145.0 522.2,145.4 523.3,145.7 523.2,146.1 524.9,146.4 524.2,146.8 522.3,147.1 521.7,147.5 522.1,147.8 523.2,148.2 524.8,148.5 521.8,148.9 522.4,149.2 524.2,149.6 521.9,149.9 525.9,150.3 522.3,150.6 522.6,151.0 522.3,151.3 522.6,151.7 524.4,152.0 521.2,152.4 522.2,152.7 521.8,153.1 522.9,153.4 521.9,153.8 523.4,154.1 523.8,154.5 523.4,154.8 524.7,155.0 523.4,155.3 523.8,155.7 523.0,156.0 524.6,156.4 524.4,156.7 519.5,157.1 523.6,157.4 523.8,157.8 524.2,158.1 522.7,158.5 522.6,158.8 524.5,159.2 524.6,159.5 521.7,159.9 521.2,160.2 523.0,160.6 523.2,160.9 522.9,161.3 523.3,161.6 523.7,162.0 522.9,162.3 522.6,162.7 522.5,163.0 522.0,163.4 523.3,163.7 523.3,164.1 523.0,164.4 523.8,164.8 522.7,165.1 522.3,165.5 522.7,165.8 523.2,166.2 523.8,166.5 523.0,166.9 522.3,167.2 524.7,167.6 523.3,167.9 521.7,168.3 524.3,168.6 523.6,169.0 524.5,169.3 523.5,169.7 523.9,170.0 520.0,170.4 523.7,170.7 524.2,171.1 523.5,171.4 525.1,171.8 523.3,172.1 522.8,172.5 524.1,172.8 522.0,173.2 522.6,173.5 523.0,173.9 521.9,174.2 524.0,174.6 524.4,174.9 522.1,175.3 523.3,175.6 525.1,176.0 521.9,176.3 523.7,176.7 523.1,177.0 524.5,177.4 522.1,177.7 522.6,178.1 524.5,178.4 522.8,178.8 520.5,179.1 522.5,179.5 522.4,179.8 522.8,180.2 521.4,180.5 522.6,180.9 524.0,181.2 521.5,181.6 523.2,181.9 523.7,182.3 521.8,182.6 521.9,183.0 523.6,183.3 522.7,183.7 523.8,184.0 523.6,184.4 522.6,184.7 522.9,185.1 522.1,185.4 523.8,185.8 522.3,186.1 523.1,186.5 523.5,186.8 520.8,187.2 523.8,187.5 524.0,187.9 523.9,188.2 525.0,188.6 523.8,188.9 523.6,189.3 523.8,189.6 522.3,190.0 523.0,190.0 523.0,190.3 515.5,190.6 515.8,193.0 523.0,193.3 522.5,197.0 516.0,197.3 516.0,199.6 523.0,199.9 524.1,200.0 524.6,200.3 522.4,200.7 523.7,201.0 523.8,201.4 524.5,201.7 522.7,202.1 523.2,202.4 522.2,202.8 523.6,203.1 523.1,203.5 522.2,203.8 523.0,204.2 523.3,204.5 524.4,204.9 523.2,205.2 523.3,205.6 525.2,205.9 522.8,206.3 523.4,206.6 522.4,207.0 523.2,207.3 523.1,207.7 524.9,208.0 523.4,208.4 523.1,208.7 524.6,209.1 523.7,209.4 524.7,209.8 522.2,210.1 523.9,210.5 524.1,210.8 524.5,211.2 525.1,211.5 525.8,211.9 525.4,212.2 524.6,212.6 524.9,212.9 524.8,213.3 522.3,213.6 524.0,214.0 525.7,214.3 524.0,214.7 522.4,215.0 523.4,215.4 523.6,215.7 525.9,216.1 524.5,216.4 523.4,216.8 522.4,217.1 520.0,217.5 524.0,217.8 522.6,218.2 523.8,218.5 524.1,218.9 524.8,219.2 525.3,219.6 524.7,219.9 524.0,220.3 523.3,220.6 523.1,221.0 522.2,221.3 523.3,221.7 524.9,222.0 524.0,222.4 523.6,222.7 523.5,223.1 524.0,223.4 524.3,223.8 524.3,224.1 523.0,224.5 523.9,224.8 525.0,225.2 524.9,225.5 524.7,225.9 524.7,226.2 523.3,226.6 523.6,226.9 523.4,227.3 523.9,227.6 523.5,228.0 523.4,228.3 522.8,228.7 523.3,229.0 525.5,229.4 522.4,229.7 523.5,230.1 525.1,230.4 522.3,230.8 523.8,231.1 524.3,231.5 523.4,231.8 525.3,232.2 524.4,232.5 524.8,232.9 524.6,233.2 523.5,233.6 525.1,233.9 523.2,234.3 525.3,234.6 524.9,235.0 525.4,235.3 519.5,235.7 523.7,236.0 525.6,236.4 523.6,236.7 526.1,237.1 523.5,237.4 524.0,237.8 523.9,238.1 524.6,238.5 523.4,238.8 524.3,239.2 523.9,239.5 523.9,239.9 525.7,240.0 525.0,240.3 524.6,240.7 524.2,241.0 525.0,241.4 524.0,241.7 525.1,242.1 525.3,242.4 523.1,242.8 523.8,243.1 523.9,243.5 523.9,243.8 523.2,244.2 525.3,244.5 525.9,244.9 524.5,245.2 524.0,245.6 523.6,245.9 524.1,246.3 524.3,246.6 525.0,247.0 525.6,247.3 523.4,247.7 524.0,248.0 525.5,248.4 523.4,248.7 525.5,249.1 524.6,249.4 523.3,249.8 524.2,250.1 524.9,250.5 523.4,250.8 524.8,251.2 524.7,251.5 523.6,251.9 524.9,252.2 524.3,252.6 523.7,252.9 523.2,253.3 523.8,253.6 523.8,254.0 524.3,254.3 524.1,254.7 523.9,255.0 524.7,255.4 523.6,255.7 523.1,256.1 523.7,256.4 524.4,256.8 524.1,257.1 525.2,257.5 524.9,257.8 525.4,258.2 525.3,258.5 526.7,258.9 525.3,259.2 524.9,259.6 523.8,259.9 524.9,260.3 525.1,260.7 524.4,261.0 524.8,261.4 524.2,261.7 525.1,262.1 523.3,262.4 523.9,262.8 522.5,263.1 524.7,263.5 524.2,263.8 525.1,264.2 523.0,264.5 523.8,264.9 523.4,265.2 522.4,265.6 524.0,265.9 523.5,266.3 523.2,266.6 524.4,267.0 523.2,267.3 523.3,267.7 523.3,268.0 524.8,268.4 523.4,268.7 523.5,269.1 523.9,269.4 524.8,269.8 526.4,270.1 524.6,270.5 525.2,270.8 524.7,271.2 524.8,271.5 524.4,271.9 524.3,272.2 524.5,272.6 523.5,272.9 523.3,273.3 524.1,273.6 524.1,274.0 525.1,274.3 523.2,274.7 524.7,275.0 524.5,275.4 524.3,275.7 523.6,276.1 523.6,276.4 522.1,276.8 523.9,277.1 523.2,277.5 524.6,277.8 523.8,278.2 525.3,278.5 523.7,278.9 523.6,279.2 523.9,279.6 524.9,279.9 523.6,280.3 524.6,280.6 524.4,281.0 524.1,281.3 524.5,281.7 524.4,282.0 519.0,282.4 524.4,282.7 524.0,283.1 522.9,283.4 524.1,283.8 523.4,284.1 524.0,284.5 522.6,284.8 523.8,285.2 523.6,285.5 522.5,285.9 523.7,286.2 524.5,286.6 522.2,286.9 522.5,287.3 523.1,287.6 524.4,288.0 523.3,288.0 522.7,288.4 523.6,288.7 524.3,289.1 523.6,289.4 524.1,289.8 524.1,290.1 523.1,290.5 523.4,290.8 524.4,291.2 524.1,291.5 524.4,291.9 524.6,292.2 524.3,292.6 524.3,292.9 524.5,293.0 516.0,296.3 523.7,296.3 519.7,297.4 522.3,298.5 521.8,299.6 525.2,300.7 521.6,301.8 524.3,302.9 518.6,304.0 525.1,305.1 520.7,306.2 522.6,307.3 521.5,308.4 514.7,309.5 522.5,310.6 522.2,311.7 523.8,312.8 522.4,313.9 515.2,315.0 521.5,316.1 515.3,317.2 518.3,318.3 516.8,319.4 518.6,320.5 525.0,321.6 516.0,322.7 526.5,323.8 520.2,324.9 521.5,325.0 515.5,325.5 515.5,327.0 524.0,327.3 523.5,334.0 524.0,341.5 518.6,341.7 518.6,350.0" fill="none" stroke="#00cc00" stroke-width="1.7" stroke-linejoin="round" /></g>
<g clip-path="url(#cr3)"><polyline points="554.9,52.0 555.2,52.8 554.9,53.6 555.4,54.4 555.5,55.0 555.0,55.8 554.1,56.6 552.8,57.4 552.9,58.0 552.5,58.8 552.4,59.6 552.7,60.4 552.8,61.2 553.0,62.0 552.8,62.8 552.8,63.6 552.1,64.4 552.2,65.2 552.0,66.0 552.4,66.8 552.5,67.6 552.8,68.4 552.9,69.2 553.1,70.0 552.5,70.8 552.7,71.6 553.0,72.4 551.9,73.2 552.9,74.0 552.9,74.8 553.1,75.6 552.4,76.4 552.5,77.2 552.9,78.0 552.9,78.8 553.4,79.6 552.9,80.4 552.6,81.2 552.9,82.0 553.1,82.8 552.6,83.6 551.8,84.4 552.1,85.2 552.4,86.0 552.6,86.8 553.1,87.6 552.7,88.4 553.3,89.2 553.5,90.0 553.9,90.8 554.3,91.6 553.6,92.4 554.0,93.2 553.9,94.0 553.0,94.8 552.8,95.6 552.7,96.4 553.0,97.2 553.3,98.0 552.7,98.8 552.5,99.6 552.5,100.4 553.1,101.2 553.8,102.0 553.7,102.8 553.8,103.6 553.7,104.4 554.4,105.2 554.6,106.0 554.1,106.8 553.6,107.6 553.9,108.4 553.1,109.2 552.4,110.0 552.8,110.8 553.1,111.6 552.8,112.4 552.9,113.2 552.9,114.0 552.8,114.8 553.2,115.6 553.6,116.4 553.0,117.2 553.4,118.0 553.1,118.8 553.2,119.6 552.8,120.4 552.6,121.2 553.2,122.0 552.8,122.8 552.2,123.6 552.7,124.4 552.6,125.2 552.5,126.0 553.1,126.8 552.7,127.6 553.1,128.4 552.2,129.2 552.0,130.0 552.7,130.8 553.3,131.6 553.3,132.4 553.1,133.2 553.0,134.0 552.7,134.8 552.7,135.6 552.1,136.4 552.9,137.2 552.4,138.0 552.9,138.8 553.1,139.6 552.5,140.4 553.1,141.2 552.3,142.0 553.4,142.8 553.1,143.6 552.3,144.4 552.7,145.2 552.7,146.0 552.2,146.8 552.3,147.6 551.4,148.4 552.2,149.2 552.2,150.0 551.8,150.8 552.2,151.6 552.4,152.4 553.4,153.2 553.6,154.0 553.9,154.8 556.0,155.6 553.5,156.4 553.2,157.2 552.3,158.0 552.7,158.8 552.6,159.6 551.9,160.4 552.7,161.2 553.1,162.0 553.2,162.8 552.6,163.6 552.5,164.4 552.0,165.2 552.1,166.0 552.1,166.8 552.7,167.6 552.4,168.4 552.2,169.2 552.6,170.0 553.4,170.8 553.2,171.6 553.3,172.4 553.6,173.2 553.7,174.0 552.8,174.8 553.3,175.6 553.4,176.4 552.8,177.2 553.1,178.0 558.0,178.8 553.3,179.6 553.4,180.4 554.3,181.2 554.2,182.0 553.3,182.8 553.5,183.6 553.5,184.4 553.6,185.2 554.3,186.0 554.4,186.8 554.7,187.6 555.8,188.0 556.7,188.8 555.4,189.6 566.0,190.4 555.5,191.2 555.5,192.0 555.6,192.8 555.7,193.6 556.5,194.4 555.1,195.2 554.8,196.0 564.0,196.8 556.3,197.6 555.7,198.4 554.8,199.2 553.9,200.0 554.4,200.8 553.0,201.6 553.1,202.0 552.5,202.8 552.9,203.6 552.7,204.4 553.0,205.2 553.1,206.0 553.3,206.8 553.6,207.6 553.5,208.4 553.3,209.2 552.7,210.0 552.9,210.8 552.4,211.6 552.3,212.4 553.0,213.2 552.5,214.0 552.6,214.8 552.7,215.6 553.0,216.4 553.2,217.2 553.0,218.0 552.9,218.8 553.3,219.6 552.8,220.4 552.8,221.2 552.4,222.0 553.3,222.8 554.0,223.6 553.3,224.4 553.8,225.2 552.9,226.0 551.8,226.8 551.7,227.6 552.3,228.4 552.2,229.2 552.5,230.0 552.9,230.8 553.0,231.6 553.4,232.4 552.8,233.2 552.8,234.0 557.0,234.8 553.4,235.6 553.0,236.4 553.5,237.2 553.0,238.0 553.0,238.8 552.8,239.6 552.6,240.4 551.9,241.2 552.2,242.0 552.7,242.8 552.8,243.6 552.5,244.4 552.8,245.2 552.3,246.0 552.7,246.8 552.6,247.6 552.8,248.4 552.6,249.2 552.5,250.0 552.5,250.8 552.6,251.6 553.0,252.4 553.4,253.2 553.5,254.0 553.7,254.8 553.2,255.6 553.0,256.4 553.5,257.2 553.8,258.0 553.9,258.8 553.2,259.6 552.9,260.4 556.0,261.2 553.6,262.0 554.1,262.8 553.5,263.6 553.0,264.4 553.9,265.2 553.4,266.0 553.2,266.8 553.8,267.6 553.9,268.4 553.7,269.2 553.6,270.0 553.2,270.8 554.1,271.6 553.7,272.4 555.0,273.2 554.1,274.0 554.1,274.8 553.7,275.6 553.5,276.4 554.8,277.2 553.6,278.0 553.5,278.8 553.0,279.6 556.0,280.4 553.2,281.2 553.0,282.0 553.4,282.8 553.0,283.6 553.1,284.4 553.0,285.2 553.0,286.0 553.0,286.8 553.7,287.6 553.5,288.4 552.9,289.2 553.8,290.0 554.3,290.8 553.6,291.6 553.1,292.4 553.0,293.2 553.3,294.0 553.1,294.8 553.2,295.6 577.4,296.4 552.5,297.0 552.9,297.8 556.3,298.6 556.5,299.4 553.6,300.2 556.6,301.0 554.7,301.8 554.8,302.6 556.6,303.4 557.5,304.2 563.5,305.0 555.1,305.8 555.8,306.6 555.0,307.4 569.3,308.2 554.8,309.0 557.2,309.8 557.6,310.6 556.2,311.4 555.0,312.2 566.0,313.0 558.9,313.8 556.7,314.6 557.8,315.4 568.0,316.2 555.8,317.0 556.6,317.8 557.9,318.6 556.4,319.4 553.2,320.2 548.9,321.0 557.5,321.8 579.7,322.6 555.4,323.4 554.8,324.2 553.8,325.0 554.4,325.8 553.6,326.6 553.1,327.4 553.4,328.2 552.9,329.0 553.5,329.8 552.5,330.6 553.1,331.4 553.7,332.2 553.2,333.0 553.7,333.8 553.1,334.6 553.7,335.4 553.8,336.2 554.2,337.0 554.2,337.8 556.0,338.6 554.3,339.4 555.2,340.2 555.0,341.0 555.6,341.8 554.9,342.6 554.8,343.4 554.2,344.2 554.3,345.0 554.3,345.8 553.3,346.6 554.0,347.4 554.2,348.2 553.4,349.0 553.6,349.8 554.0,350.0" fill="none" stroke="#ff0000" stroke-width="1.2" stroke-linejoin="round" /></g>
<linearGradient id="gF1" x1="0" x2="0" y1="0" y2="1"><stop offset="0" stop-color="#ff7a00"/><stop offset="0.5" stop-color="#ffc000"/><stop offset="1" stop-color="#ff9000"/></linearGradient>
<path d="M220.6,199.5 L219.6,200.1 L219.5,200.9 L219.7,201.7 L218.7,202.5 L219.1,203.0 L219.5,203.8 L219.6,204.6 L218.4,205.4 L218.7,206.2 L218.5,207.0 L218.2,207.8 L218.0,208.6 L217.3,209.4 L217.0,210.2 L217.4,211.0 L216.9,211.8 L215.6,212.0 L216.5,212.8 L217.4,213.6 L217.5,214.4 L217.6,215.0 L218.9,215.8 L218.6,216.6 L218.8,217.4 L220.3,218.0 L220.0,218.8 L220.6,219.5 Z" fill="url(#gF1)"/>
<path d="M220.8,328.6 L218.3,329.2 L217.9,330.0 L217.2,330.8 L217.6,331.6 L218.7,332.4 L218.2,333.2 L218.7,334.0 L219.0,334.8 L218.4,335.6 L218.6,336.4 L217.9,337.2 L219.1,337.3 L220.8,337.4 Z" fill="url(#gF1)"/>
<g clip-path="url(#cg1)"><polyline points="226.8,52.0 225.3,52.8 226.9,53.6 225.3,54.4 225.7,55.2 226.0,56.0 225.7,56.8 225.4,57.6 226.0,58.4 226.2,59.2 225.8,60.0 226.6,60.8 226.3,61.6 226.2,62.4 227.5,63.2 227.8,64.0 226.6,64.8 226.6,65.6 226.2,66.4 225.7,67.2 225.6,68.0 226.2,68.8 225.3,69.6 225.4,70.4 226.5,71.2 225.7,72.0 225.9,72.8 226.4,73.6 225.9,74.4 225.9,75.2 226.0,76.0 223.9,76.0 224.8,76.8 223.6,77.6 224.2,78.4 222.4,79.2 222.5,80.0 223.0,80.0 223.1,80.8 223.4,81.6 224.5,82.4 224.2,83.2 224.4,84.0 224.9,84.0 226.1,84.8 225.3,85.6 225.3,86.4 225.9,87.2 225.4,88.0 226.6,88.8 225.4,89.6 225.9,90.4 226.4,91.2 225.9,92.0 226.2,92.8 225.5,93.6 225.7,94.4 227.7,95.2 225.6,96.0 226.0,96.8 225.2,97.6 225.7,98.4 226.2,99.2 225.5,100.0 225.6,100.8 225.6,101.6 224.1,102.4 225.9,103.2 224.6,104.0 225.1,104.8 225.7,105.6 224.9,106.4 225.4,107.2 225.7,108.0 226.9,108.8 225.6,109.6 225.5,110.4 225.4,111.2 225.9,112.0 225.9,112.8 225.2,113.6 224.0,114.4 224.3,115.2 225.7,116.0 226.5,116.8 227.1,117.6 227.1,118.4 226.2,119.2 226.2,120.0 225.7,120.8 225.6,121.6 225.7,122.4 225.1,123.2 223.9,124.0 226.2,124.8 225.0,125.6 226.1,126.4 225.8,127.2 227.3,128.0 225.8,128.8 226.6,129.6 225.4,130.4 225.9,131.2 225.3,132.0 225.5,132.8 225.7,133.6 226.0,134.4 226.7,135.2 225.1,136.0 225.9,136.8 226.0,137.6 224.0,138.4 225.9,139.2 225.2,140.0 224.9,140.8 224.6,141.6 224.1,142.4 224.3,143.2 226.6,144.0 225.6,144.8 224.1,145.6 225.6,146.4 226.1,147.2 225.7,148.0 225.4,148.8 226.7,149.6 224.7,150.4 224.0,151.2 225.6,152.0 226.5,152.8 225.3,153.6 225.8,154.4 227.1,155.2 226.9,156.0 227.0,156.8 226.7,157.6 226.2,158.4 226.3,159.2 226.3,160.0 226.1,160.8 227.5,161.6 226.8,162.4 226.5,163.2 227.1,164.0 227.4,164.8 226.6,165.0 225.8,165.8 224.6,166.6 223.5,167.0 223.9,167.8 223.5,168.6 224.8,169.4 225.9,170.0 224.9,170.8 224.2,171.6 225.1,172.4 226.0,173.2 226.9,174.0 225.1,174.8 226.1,175.6 225.2,176.4 225.1,177.2 225.1,178.0 226.0,178.8 226.0,179.6 225.2,180.4 225.8,181.2 225.0,182.0 225.5,182.8 225.7,183.6 224.6,184.4 225.5,185.2 225.2,186.0 225.6,186.8 224.4,187.6 225.9,188.4 225.5,189.2 225.7,190.0 224.8,190.8 224.4,191.6 226.1,192.4 224.3,193.2 224.9,194.0 224.2,194.8 224.5,195.6 224.9,196.4 225.1,197.2 225.3,198.0 225.7,198.8 224.3,199.0 219.7,199.3 219.6,200.1 219.5,200.9 219.7,201.7 218.7,202.5 219.1,203.0 219.5,203.8 219.6,204.6 218.4,205.4 218.7,206.2 218.5,207.0 218.2,207.8 218.0,208.6 217.3,209.4 217.0,210.2 217.4,211.0 216.9,211.8 215.6,212.0 216.5,212.8 217.4,213.6 217.5,214.4 217.6,215.0 218.9,215.8 218.6,216.6 218.8,217.4 220.3,218.0 220.0,218.8 218.9,219.6 217.8,220.4 218.9,221.2 217.1,222.0 218.8,222.8 220.0,223.6 219.4,224.4 220.5,225.2 219.4,226.0 219.7,226.8 221.3,227.6 219.7,228.4 221.4,229.2 220.7,230.0 222.9,230.8 222.1,231.6 222.1,232.0 221.9,232.8 223.2,233.6 222.2,234.4 223.7,235.2 223.3,236.0 222.6,236.8 222.5,237.6 221.4,238.4 224.1,239.2 222.7,240.0 221.6,240.8 222.8,241.6 222.6,242.4 221.7,243.2 223.0,244.0 221.3,244.8 222.6,245.6 224.0,246.4 223.2,247.2 223.0,248.0 222.0,248.8 223.5,249.6 224.6,250.4 223.8,251.2 223.5,252.0 223.8,252.8 221.8,253.6 223.4,254.4 222.8,255.2 223.3,256.0 224.1,256.8 222.7,257.6 224.0,258.4 223.5,259.2 222.1,260.0 222.3,260.8 222.9,261.6 224.3,262.4 223.6,263.2 223.3,264.0 222.8,264.8 223.2,265.6 223.5,266.4 223.9,267.2 223.1,268.0 224.8,268.8 221.0,269.6 224.4,270.4 224.0,271.2 224.5,272.0 223.0,272.8 224.9,273.6 225.4,274.4 224.6,275.2 225.0,276.0 224.0,276.8 222.8,277.6 223.0,278.4 224.3,279.2 224.2,280.0 225.4,280.8 224.0,281.6 224.2,282.4 223.9,283.2 223.8,284.0 223.4,284.8 223.2,285.6 224.4,286.4 222.8,287.2 222.8,288.0 224.7,288.8 223.4,289.6 222.5,290.0 221.8,290.8 223.3,291.6 224.1,292.4 224.8,293.2 224.4,294.0 223.3,294.8 225.0,295.6 222.7,296.4 222.4,297.2 223.5,298.0 224.5,298.8 223.7,299.6 224.7,300.4 224.8,301.2 224.7,302.0 227.5,302.8 224.4,303.6 224.2,304.4 224.6,305.2 225.1,306.0 225.2,306.8 223.6,307.6 224.6,308.4 224.6,309.2 222.7,310.0 224.2,310.8 223.6,311.6 222.6,312.4 224.6,313.2 224.1,314.0 223.0,314.8 225.1,315.6 224.2,316.4 224.9,317.2 224.5,318.0 223.9,318.8 223.5,319.6 223.2,320.4 223.8,321.2 223.8,322.0 224.1,322.8 224.8,323.6 224.6,324.4 223.2,325.2 223.6,326.0 224.5,326.8 223.9,327.6 223.6,328.0 218.1,328.4 218.3,329.2 217.9,330.0 217.2,330.8 217.6,331.6 218.7,332.4 218.2,333.2 218.7,334.0 219.0,334.8 218.4,335.6 218.6,336.4 217.9,337.2 219.1,337.3 220.4,338.1 221.8,338.9 222.8,339.5 221.8,340.3 222.4,340.5 218.6,341.3 224.7,342.1 224.9,342.9 224.0,343.7 224.0,344.5 224.3,345.3 222.6,346.1 224.2,346.9 223.6,347.7 218.8,348.5 221.3,349.3 218.0,350.0 216.4,350.8 230.0,351.6 212.8,352.4 223.9,353.2 220.7,354.0 221.6,354.8 220.0,355.0 219.2,355.8 233.0,356.6 226.0,357.4 218.6,358.2 221.8,359.0 220.8,359.8 219.9,360.0 219.7,360.8 220.2,361.6 221.2,362.4 220.4,363.2 219.3,364.0 219.1,364.8 219.9,365.5 227.8,365.8 227.8,366.6 227.8,367.4 227.8,368.2 227.8,369.0 227.8,369.8 227.8,370.6 227.8,371.4 227.8,372.0" fill="none" stroke="#00cc00" stroke-width="1.1" stroke-linejoin="round" /></g>
<g clip-path="url(#cr2)"><polyline points="408.0,280.0 416.0,280.5 410.2,281.2 406.0,282.0 407.2,282.7 409.4,283.4 410.4,284.1 411.7,284.8 414.0,285.5 408.5,286.2 405.0,287.0 405.1,287.6 404.4,288.2 403.9,288.8 403.5,289.4 404.0,290.0 403.2,290.6 403.4,291.2 403.2,291.8 403.2,292.4 403.2,293.0 403.6,293.6 403.2,294.2 403.2,294.8 404.2,295.4 404.0,296.0 405.0,296.6 406.4,297.2 406.8,297.8 408.2,298.4 410.0,299.0 410.6,299.7 413.9,300.3 415.0,301.0 417.4,301.7 418.0,302.3 420.0,303.0 420.2,303.6 420.4,304.2 422.6,304.9 421.3,305.5 416.2,306.2 410.0,307.0 408.0,307.7 406.7,308.4 405.2,309.0 403.2,309.7 404.6,310.4 408.0,311.0 407.0,311.7 405.7,312.3 404.0,313.0 406.7,313.7 409.8,314.3 412.0,315.0 409.2,315.8 405.0,316.5 421.0,317.5 416.5,318.2 412.0,319.0 420.0,320.0 422.1,320.7 425.2,321.3 427.0,322.0 426.1,322.7 425.3,323.3 424.0,324.0 428.2,324.8 430.0,325.5 431.3,326.2 432.0,327.0 428.6,327.6 424.4,328.2 422.0,328.8 418.6,329.4 415.0,330.0 428.0,330.5 421.4,331.2 414.4,331.8 407.0,332.5 428.0,333.0 425.5,333.8 422.0,334.5 426.2,335.2 430.1,335.8 434.0,336.5 431.4,337.2 428.0,338.0 426.6,338.7 425.5,339.3 425.0,340.0 422.8,340.7 421.8,341.3 420.0,342.0 408.0,343.0 425.0,344.0 419.0,344.7 414.7,345.3 410.0,346.0 420.0,346.5 412.4,347.2 405.0,348.0 418.0,349.0 405.0,350.0 406.9,350.7 407.8,351.3 410.0,352.0 407.7,352.7 405.4,353.3 403.2,354.0 403.3,354.6 404.3,355.2 404.7,355.8 404.8,356.4 406.0,357.0 405.4,357.6 404.7,358.2 406.0,358.8 404.3,359.4 404.0,360.0 405.3,360.7 406.5,361.3 409.0,362.0 408.0,362.6 407.3,363.2 406.1,363.8 404.2,364.4 404.0,365.0 404.0,365.6 404.6,366.2 405.9,366.8 405.9,367.4 407.0,368.0 407.8,368.6 409.7,369.2 408.3,369.8 410.1,370.4 411.0,371.0 407.0,372.0" fill="none" stroke="#ff0000" stroke-width="1.7" stroke-linejoin="round" /></g>
<rect x="250.2" y="254.6" width="2.3" height="96" fill="#cc00ee"/>
<rect x="252.3" y="268.6" width="46.7" height="2.3" fill="#ff0000"/>
<rect x="252.3" y="274.9" width="46.7" height="2.8" fill="#ff0000"/>
<rect x="252.3" y="279.2" width="46.7" height="3.5" fill="#ff0000"/>
<rect x="252.3" y="296.8" width="14.7" height="0.8" fill="#ff0000"/>
<rect x="252.3" y="297.6" width="46.7" height="1.5" fill="#ff0000"/>
<rect x="252.3" y="304" width="46.7" height="47.0" fill="#ff0000"/>
<rect x="266" y="277.2" width="33" height="0.6" fill="#ffc8c8"/>
<rect x="291" y="281" width="7" height="0.8" fill="#ffb0b0"/>
<rect x="261" y="305.7" width="38" height="1" fill="#fff4ee" fill-opacity="1"/>
<rect x="270" y="309.7" width="29" height="1" fill="#fff4ee" fill-opacity="1"/>
<rect x="252.5" y="312.6" width="46.5" height="1" fill="#fff4ee" fill-opacity="1"/>
<rect x="252.5" y="315.0" width="46.5" height="1" fill="#fff4ee" fill-opacity="0.6"/>
<rect x="252.5" y="318.0" width="46.5" height="1" fill="#fff4ee" fill-opacity="1"/>
<rect x="256" y="319.7" width="43" height="1" fill="#fff4ee" fill-opacity="1"/>
<rect x="252.5" y="322.1" width="46.5" height="1" fill="#fff4ee" fill-opacity="1"/>
<rect x="252.5" y="324.0" width="46.5" height="1" fill="#fff4ee" fill-opacity="0.8"/>
<rect x="290" y="326.7" width="9" height="1" fill="#fff4ee" fill-opacity="0.8"/>
<rect x="265" y="331.8" width="34" height="1" fill="#fff4ee" fill-opacity="1"/>
<rect x="275" y="334.2" width="24" height="1" fill="#fff4ee" fill-opacity="1"/>
<rect x="252.5" y="335.1" width="46.5" height="1" fill="#fff4ee" fill-opacity="0.5"/>
<rect x="258" y="336.8" width="41" height="1" fill="#fff4ee" fill-opacity="0.7"/>
<rect x="256" y="340.0" width="43" height="1" fill="#fff4ee" fill-opacity="1"/>
<rect x="252.5" y="342.6" width="46.5" height="1" fill="#fff4ee" fill-opacity="0.6"/>
<rect x="288" y="344.5" width="11" height="1" fill="#fff4ee" fill-opacity="1"/>
<rect x="253" y="348.1" width="46" height="1" fill="#fff4ee" fill-opacity="1"/>
<rect x="275" y="349.8" width="24" height="1" fill="#fff4ee" fill-opacity="1"/>
<polyline points="252.5,351.0 256.0,352.5 262.0,353.0 258.0,354.5 263.0,355.5 278.0,356.3 266.0,357.0 273.0,358.8 262.0,359.5 268.0,360.0 263.0,361.0 277.0,362.4 265.0,363.0 268.0,363.7 263.0,364.5 265.0,365.0 262.0,366.0 262.0,372.0" fill="none" stroke="#ff0000" stroke-width="1.2" stroke-linejoin="round" />
<text x="150.8" y="75.2" font-family="Liberation Sans" font-size="6" textLength="21" lengthAdjust="spacingAndGlyphs" fill="#e0a0c8" fill-opacity="0.8">Sidi Salim</text>
<text x="300.2" y="83.2" font-family="Liberation Sans" font-size="6" textLength="21.5" lengthAdjust="spacingAndGlyphs" fill="#a0d8a8" fill-opacity="0.8">Sidi Salim</text>
<text x="449.4" y="63.1" font-family="Liberation Sans" font-size="6" textLength="20.5" lengthAdjust="spacingAndGlyphs" fill="#a0d8a8" fill-opacity="0.8">Sidi Salim</text>
<text x="597.8" y="90.2" font-family="Liberation Sans" font-size="6" textLength="21" lengthAdjust="spacingAndGlyphs" fill="#a0d8a8" fill-opacity="0.8">Sidi Salim</text>
<text x="155" y="345.2" font-family="Liberation Sans" font-size="6.8" textLength="17" lengthAdjust="spacingAndGlyphs" fill="#c89060" fill-opacity="0.8">Qantara</text>
<text x="304.2" y="351.4" font-family="Liberation Sans" font-size="6.8" textLength="17" lengthAdjust="spacingAndGlyphs" fill="#c89060" fill-opacity="0.8">Qantara</text>
<text x="304.2" y="364.6" font-family="Liberation Sans" font-size="6.8" textLength="17" lengthAdjust="spacingAndGlyphs" fill="#c89060" fill-opacity="0.8">Qantara</text>
<text x="453" y="354.2" font-family="Liberation Sans" font-size="6.8" textLength="17" lengthAdjust="spacingAndGlyphs" fill="#c89060" fill-opacity="0.8">Qantara</text>
<text x="602.5" y="340.2" font-family="Liberation Sans" font-size="6.8" textLength="16.3" lengthAdjust="spacingAndGlyphs" fill="#c89060" fill-opacity="0.8">Qantara</text>
<text x="0" y="0" transform="translate(313,346.2) rotate(-90)" font-family="Liberation Sans" font-size="7" text-anchor="middle" textLength="38.8" lengthAdjust="spacingAndGlyphs" fill="#000">Coarse sand</text>
<polyline points="56,76.8 174,76.8 213,84.2 323,84.2 362,64.9 472,64.9 511,91.2 630,91.2" fill="none" stroke="#d58fd5" stroke-width="1.1"/>
<polyline points="56,345.9 174,345.9 213,352.6 323,352.6 362,354.8 472,354.8 511,340.9 630,340.9" fill="none" stroke="#c98686" stroke-width="1.1"/>
<line x1="213" y1="352.6" x2="323" y2="352.6" stroke="#d9a0a0" stroke-width="1.8" opacity="0.8"/>
<line x1="213" y1="365.4" x2="323" y2="365.4" stroke="#c98686" stroke-width="1.1"/>
<circle cx="51.4" cy="76.6" r="4.2" fill="none" stroke="#d49ad8" stroke-width="1"/><line x1="47.199999999999996" y1="76.6" x2="55.6" y2="76.6" stroke="#d49ad8" stroke-width="1"/><line x1="51.4" y1="72.39999999999999" x2="51.4" y2="80.8" stroke="#d49ad8" stroke-width="1"/>
<circle cx="634.4" cy="91.2" r="4.2" fill="none" stroke="#d49ad8" stroke-width="1"/><line x1="630.1999999999999" y1="91.2" x2="638.6" y2="91.2" stroke="#d49ad8" stroke-width="1"/><line x1="634.4" y1="87.0" x2="634.4" y2="95.4" stroke="#d49ad8" stroke-width="1"/>
<circle cx="51.5" cy="346.1" r="4.2" fill="none" stroke="#d08a8a" stroke-width="1"/><line x1="47.3" y1="346.1" x2="55.7" y2="346.1" stroke="#d08a8a" stroke-width="1"/><line x1="51.5" y1="341.90000000000003" x2="51.5" y2="350.3" stroke="#d08a8a" stroke-width="1"/>
<circle cx="634.3" cy="340.9" r="4.2" fill="none" stroke="#d08a8a" stroke-width="1"/><line x1="630.0999999999999" y1="340.9" x2="638.5" y2="340.9" stroke="#d08a8a" stroke-width="1"/><line x1="634.3" y1="336.7" x2="634.3" y2="345.09999999999997" stroke="#d08a8a" stroke-width="1"/>
<text x="7.3" y="79.5" font-family="Liberation Sans" font-size="9.6" textLength="37.2" lengthAdjust="spacingAndGlyphs" fill="#282828">Sidi Salim</text>
<text x="640" y="94.1" font-family="Liberation Sans" font-size="9.6" textLength="37.4" lengthAdjust="spacingAndGlyphs" fill="#282828">Sidi Salim</text>
<text x="14.1" y="348.3" font-family="Liberation Sans" font-size="9" textLength="28.4" lengthAdjust="spacingAndGlyphs" fill="#282828">Qantara</text>
<text x="639.7" y="343.9" font-family="Liberation Sans" font-size="9" textLength="29.3" lengthAdjust="spacingAndGlyphs" fill="#282828">Qantara</text>
<line x1="31" y1="96" x2="31" y2="330" stroke="#0000ff" stroke-width="1.6" stroke-dasharray="1.7 2"/>
<path d="M31,88 L27.4,95.3 L34.8,95.3 Z" fill="#0000ff"/>
<path d="M31,337.3 L27.3,330.2 L35,330.2 Z" fill="#0000ff"/>
<rect x="25" y="151.6" width="12" height="83.6" fill="#ffffff"/>
<text x="0" y="0" transform="translate(35.7,234.5) rotate(-90)" font-family="Liberation Sans" font-size="11" font-weight="bold" fill="#000">Middle Miocene</text>
<line x1="177.5" y1="11.4" x2="179.6" y2="11.4" stroke="#000" stroke-width="0.9"/><line x1="207.9" y1="11.4" x2="210" y2="11.4" stroke="#000" stroke-width="0.9"/><path d="M174.5,11.4 L178.5,9.2 L178.5,13.6 Z" fill="#000"/><path d="M213,11.4 L209,9.2 L209,13.6 Z" fill="#000"/><text x="180.6" y="14.3" font-family="Liberation Sans" font-size="8" textLength="26.3" lengthAdjust="spacingAndGlyphs" fill="#333">2549 m</text>
<line x1="326.5" y1="11.4" x2="328.6" y2="11.4" stroke="#000" stroke-width="0.9"/><line x1="356.90000000000003" y1="11.4" x2="359" y2="11.4" stroke="#000" stroke-width="0.9"/><path d="M323.5,11.4 L327.5,9.2 L327.5,13.6 Z" fill="#000"/><path d="M362,11.4 L358,9.2 L358,13.6 Z" fill="#000"/><text x="329.6" y="14.3" font-family="Liberation Sans" font-size="8" textLength="26.3" lengthAdjust="spacingAndGlyphs" fill="#333">7106 m</text>
<line x1="475.5" y1="11.4" x2="477.6" y2="11.4" stroke="#000" stroke-width="0.9"/><line x1="505.90000000000003" y1="11.4" x2="508" y2="11.4" stroke="#000" stroke-width="0.9"/><path d="M472.5,11.4 L476.5,9.2 L476.5,13.6 Z" fill="#000"/><path d="M511,11.4 L507,9.2 L507,13.6 Z" fill="#000"/><text x="478.6" y="14.3" font-family="Liberation Sans" font-size="8" textLength="26.3" lengthAdjust="spacingAndGlyphs" fill="#333">3096 m</text>
<rect x="626.5" y="272.4" width="5.5" height="28.6" fill="#000"/>
<rect x="626.5" y="301" width="5.5" height="27" fill="#fff" stroke="#222" stroke-width="0.9"/>
<text x="636" y="276.2" font-family="Liberation Sans" font-size="10.5" font-weight="bold" fill="#000">100m</text>
<text x="635" y="303" font-family="Liberation Sans" font-size="10.5" font-weight="bold" fill="#000">50m</text>
<text x="634" y="329" font-family="Liberation Sans" font-size="10.5" font-weight="bold" fill="#000">0</text>
</svg></body></html>
